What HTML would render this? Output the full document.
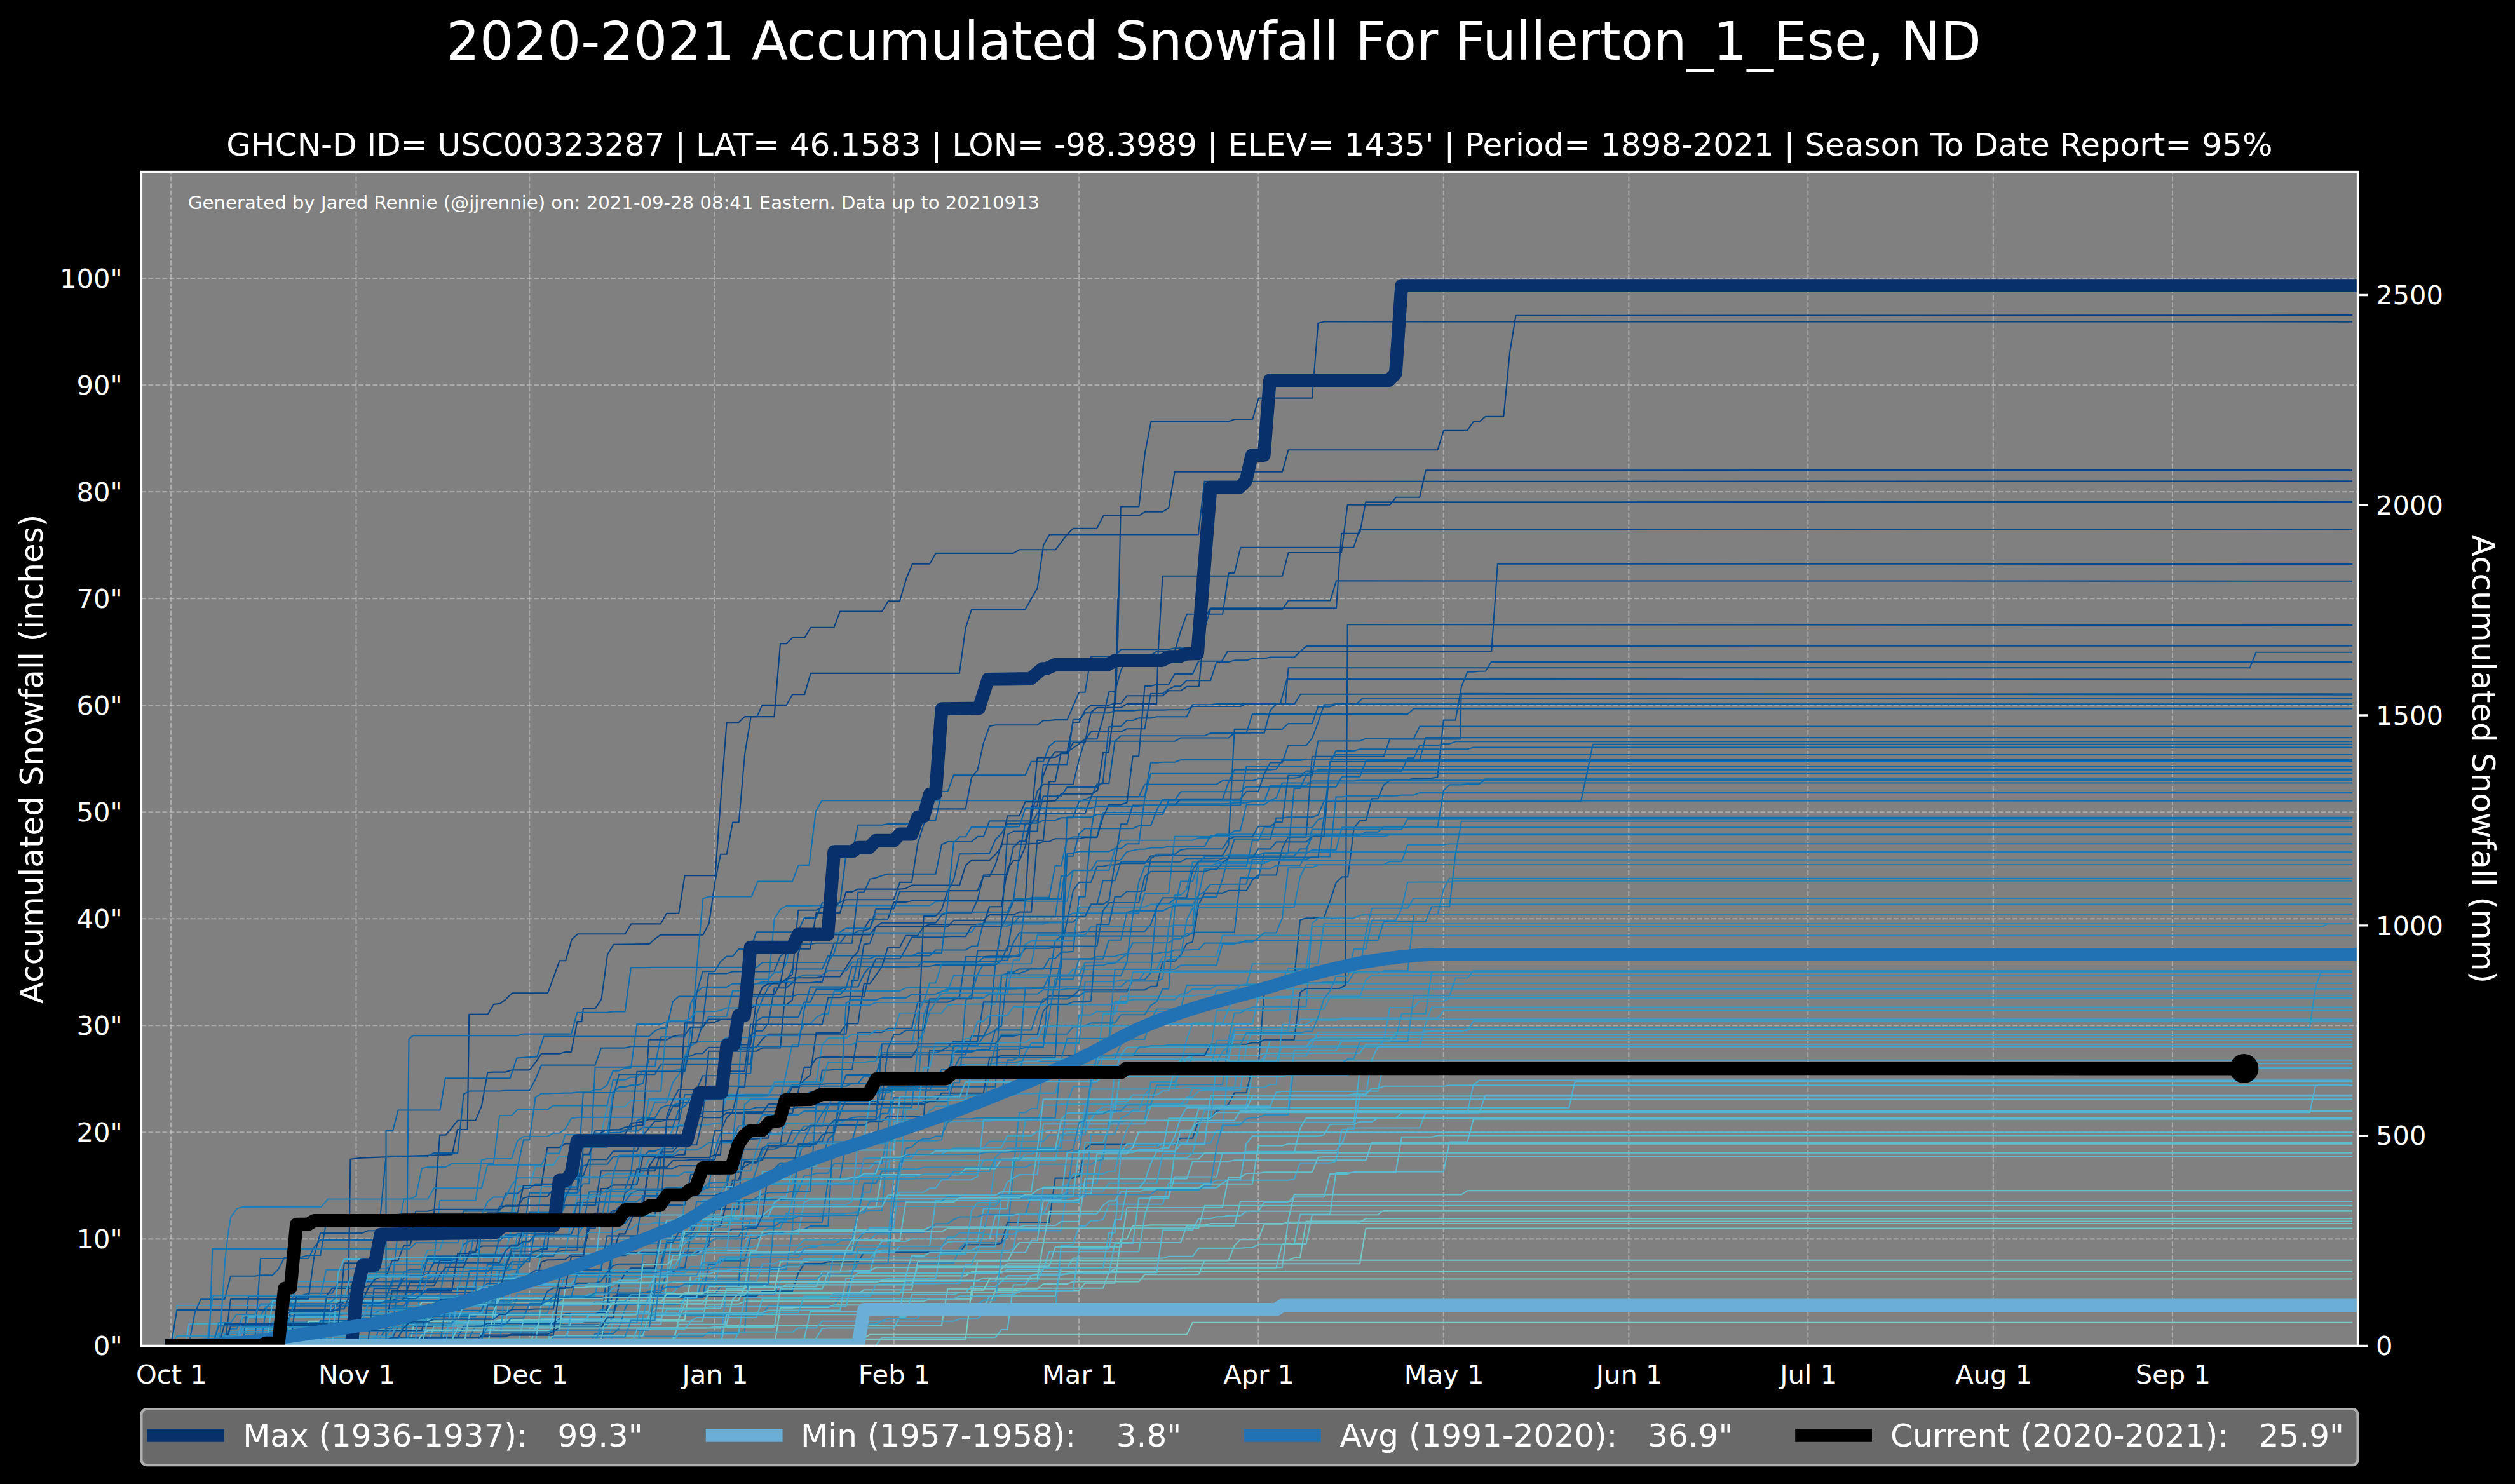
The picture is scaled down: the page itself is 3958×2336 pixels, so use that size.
<!DOCTYPE html><html><head><meta charset="utf-8"><title>2020-2021 Accumulated Snowfall For Fullerton_1_Ese, ND</title>
<style>html,body{margin:0;padding:0;background:#000;overflow:hidden}svg{display:block}text{font-family:"DejaVu Sans","Liberation Sans",sans-serif;fill:#fff;white-space:pre}</style></head><body>
<svg width="3958" height="2336" viewBox="0 0 3958 2336">
<rect x="0" y="0" width="3958" height="2336" fill="#000"/>
<rect x="222.4" y="270.5" width="3488.1" height="1847.9" fill="#808080"/>
<clipPath id="c"><rect x="222.4" y="270.5" width="3488.1" height="1847.9"/></clipPath>
<g fill="none" stroke="#d3d3d3" stroke-opacity="0.5" stroke-width="2.08" stroke-dasharray="7.7 3.33" clip-path="url(#c)"><path d="M269.0 2118.4V270.5M560.5 2118.4V270.5M833.2 2118.4V270.5M1124.6 2118.4V270.5M1406.7 2118.4V270.5M1698.2 2118.4V270.5M1980.3 2118.4V270.5M2271.8 2118.4V270.5M2563.3 2118.4V270.5M2845.3 2118.4V270.5M3136.8 2118.4V270.5M3418.9 2118.4V270.5" stroke-dashoffset="8.9"/><path d="M222.4 2118.4H3710.5M222.4 1950.4H3710.5M222.4 1782.3H3710.5M222.4 1614.3H3710.5M222.4 1446.2H3710.5M222.4 1278.2H3710.5M222.4 1110.2H3710.5M222.4 942.1H3710.5M222.4 774.1H3710.5M222.4 606.0H3710.5M222.4 438.0H3710.5"/></g>
<g clip-path="url(#c)" fill="none" stroke-linejoin="round" stroke-linecap="butt">
<g stroke-width="2.08" stroke-linecap="square">
<path d="M259.6 2118.4L438.2 2118.4L447.7 2107.7L616.9 2107.7L626.3 2088.0L842.6 2088.0L852.0 2083.5L880.2 2083.5L889.6 2080.5L946.0 2080.5L955.4 2005.1L964.8 1976.3L983.6 1976.3L993.0 1971.8L1096.4 1971.8L1105.8 1968.6L1115.2 1960.8L1124.6 1902.9L1162.3 1902.9L1171.7 1750.1L1228.1 1750.1L1237.5 1745.3L1246.9 1745.3L1256.3 1743.1L1284.5 1743.1L1293.9 1684.6L1303.3 1684.6L1312.7 1683.9L1340.9 1683.9L1350.3 1625.2L1387.9 1625.2L1397.3 1618.8L1434.9 1618.8L1444.3 1577.6L1491.4 1577.6L1500.8 1573.9L1510.2 1568.4L1519.6 1506.0L1547.8 1506.0L1557.2 1505.2L1604.2 1505.2L1613.6 1492.8L1651.2 1492.8L1660.6 1491.2L1670.0 1491.2L1679.4 1450.5L1688.8 1402.2L1698.2 1388.9L1717.0 1388.9L1726.4 1363.8L1735.8 1363.8L1745.2 1361.5L1754.6 1361.5L1764.0 1359.3L1801.6 1359.3L1811.0 1347.4L1820.4 1347.4L1829.8 1346.9L1923.9 1346.9L1933.3 1330.5L1942.7 1147.9L2017.9 1147.9L2027.3 1139.1L2064.9 1139.1L2074.3 1112.6L2093.1 1112.6L2102.5 1108.8L2121.3 1108.8L2130.7 1108.3L3701.0 1108.3" stroke="#08599c"/>
<path d="M259.6 2118.4L814.4 2118.4L823.8 2117.6L955.4 2117.6L964.8 2111.3L1002.4 2111.3L1011.8 2097.8L1021.2 2070.5L1077.6 2070.5L1087.0 2070.3L1124.6 2070.3L1134.0 2069.9L1199.9 2069.9L1209.3 2055.6L1312.7 2055.6L1322.1 2040.4L1331.5 2040.4L1340.9 2004.6L1350.3 1988.8L1472.5 1988.8L1481.9 1988.3L1500.8 1988.3L1510.2 1965.1L1519.6 1956.3L1576.0 1956.3L1585.4 1947.4L1594.8 1841.8L1604.2 1751.5L1613.6 1751.5L1623.0 1745.0L1632.4 1745.0L1641.8 1683.1L1651.2 1683.1L1660.6 1682.5L1670.0 1682.5L1679.4 1676.2L1726.4 1676.2L1735.8 1657.4L1745.2 1645.3L1754.6 1576.1L1773.4 1576.1L1782.8 1573.4L1848.7 1573.4L1858.1 1564.8L1867.5 1563.7L1876.9 1556.9L1905.1 1556.9L1914.5 1550.9L1961.5 1550.9L1970.9 1517.3L2074.3 1517.3L2083.7 1454.0L3701.0 1454.0" stroke="#2687bb"/>
<path d="M259.6 2118.4L852.0 2118.4L861.4 2110.8L955.4 2110.8L964.8 2081.3L983.6 2081.3L993.0 2080.4L1002.4 2076.1L1011.8 2034.7L1058.8 2034.7L1068.2 2024.5L1087.0 2024.5L1096.4 2012.0L1105.8 2012.0L1115.2 1918.6L1162.3 1918.6L1171.7 1888.2L1181.1 1888.2L1190.5 1886.4L1209.3 1886.3L1218.7 1884.4L1237.5 1884.4L1246.9 1838.7L1369.1 1838.7L1378.5 1828.3L1397.3 1828.3L1406.7 1826.8L1660.6 1826.8L1670.0 1787.3L1679.4 1782.5L1707.6 1782.5L1717.0 1761.6L1726.4 1749.8L1801.6 1749.8L1811.0 1739.8L1961.5 1739.8L1970.9 1689.9L1980.3 1686.1L1989.7 1667.4L1999.1 1637.8L3701.0 1637.8" stroke="#40a4cb"/>
<path d="M259.6 2118.4L1058.8 2118.4L1068.2 2076.0L1077.6 2052.8L1162.3 2052.8L1171.7 2048.4L1453.7 2048.4L1463.1 2044.8L1529.0 2044.8L1538.4 1984.5L1933.3 1984.5L1942.7 1960.9L1952.1 1951.1L1980.3 1951.1L1989.7 1926.7L2017.9 1926.7L2027.3 1923.7L2140.1 1923.7L2149.5 1918.1L3701.0 1918.1" stroke="#6ec5c8"/>
<path d="M259.6 2118.4L880.2 2118.4L889.6 2109.6L917.8 2109.6L927.2 2108.3L936.6 2108.3L946.0 2094.4L955.4 2086.6L964.8 1957.2L1115.2 1957.2L1124.6 1950.4L1171.7 1950.4L1181.1 1920.5L1237.5 1920.5L1246.9 1889.7L1256.3 1873.7L1265.7 1850.0L1275.1 1850.0L1284.5 1846.9L1303.3 1846.9L1312.7 1831.5L1322.1 1831.5L1331.5 1831.0L1387.9 1831.0L1397.3 1780.6L1406.7 1689.7L1416.1 1689.1L1500.8 1689.1L1510.2 1676.1L1557.2 1676.1L1566.6 1672.9L1594.8 1672.9L1604.2 1670.9L1688.8 1670.9L1698.2 1666.6L1754.6 1666.6L1764.0 1644.1L1773.4 1635.9L1801.6 1635.9L1811.0 1606.2L1820.4 1588.5L1858.1 1588.5L1867.5 1550.9L2036.7 1550.9L2046.1 1549.3L2055.5 1547.4L2074.3 1547.4L2083.7 1546.3L2121.3 1546.3L2130.7 1531.3L2168.3 1531.3L2177.7 1528.3L2215.4 1528.3L2224.8 1439.9L2262.4 1439.9L2271.8 1399.7L2281.2 1382.7L3701.0 1382.7" stroke="#1f80b8"/>
<path d="M259.6 2118.4L466.5 2118.4L475.9 2115.6L588.7 2115.6L598.1 2085.3L673.3 2085.3L682.7 2071.0L692.1 2062.7L805.0 2062.7L814.4 2042.7L1105.8 2042.7L1115.2 1990.6L1124.6 1990.6L1134.0 1984.7L1171.7 1984.7L1181.1 1949.3L1190.5 1949.3L1199.9 1942.8L1209.3 1941.3L1228.1 1941.3L1237.5 1938.0L1246.9 1938.0L1256.3 1935.0L1265.7 1935.0L1275.1 1930.1L1303.3 1930.1L1312.7 1762.7L1331.5 1762.7L1340.9 1759.4L1350.3 1758.3L1378.5 1758.3L1387.9 1700.9L1453.7 1700.9L1463.1 1700.5L1491.4 1700.5L1500.8 1645.8L1538.4 1645.8L1547.8 1631.2L1557.2 1626.8L1566.6 1621.4L1623.0 1621.4L1632.4 1591.7L1641.8 1572.4L1679.4 1572.4L1688.8 1567.9L1698.2 1567.9L1707.6 1561.2L1773.4 1561.2L1782.8 1542.2L1801.6 1542.2L1811.0 1531.3L1820.4 1422.6L1839.3 1422.6L1848.7 1414.8L1886.3 1414.8L1895.7 1412.1L1914.5 1412.1L1923.9 1384.0L1933.3 1347.7L1980.3 1347.7L1989.7 1347.5L2036.7 1347.5L2046.1 1336.3L2055.5 1336.3L2064.9 1317.3L2074.3 1314.6L2140.1 1314.6L2149.5 1309.7L2168.3 1309.7L2177.7 1302.3L2262.4 1302.3L2271.8 1244.6L2281.2 1235.4L2300.0 1235.4L2309.4 1234.0L2328.2 1234.0L2337.6 1226.4L3701.0 1226.4" stroke="#0b6cae"/>
<path d="M259.6 2118.4L438.2 2118.4L447.7 2050.1L457.1 2017.3L551.1 2017.3L560.5 2015.4L588.7 2015.4L598.1 1989.5L616.9 1989.5L626.3 1985.4L729.7 1985.4L739.1 1974.4L786.1 1974.4L795.6 1971.2L805.0 1934.5L814.4 1867.6L833.2 1867.6L842.6 1836.3L852.0 1836.3L861.4 1833.7L870.8 1833.7L880.2 1820.3L899.0 1820.3L908.4 1794.6L917.8 1787.0L946.0 1787.0L955.4 1742.4L983.6 1742.4L993.0 1732.1L1030.6 1732.1L1040.0 1731.5L1115.2 1731.5L1124.6 1730.3L1369.1 1730.3L1378.5 1697.6L1500.8 1697.6L1510.2 1692.9L1519.6 1676.0L1726.4 1676.0L1735.8 1596.1L1754.6 1596.1L1764.0 1568.5L1867.5 1568.5L1876.9 1567.5L1886.3 1566.3L1952.1 1566.3L1961.5 1556.5L3701.0 1556.5" stroke="#3294c2"/>
<path d="M259.6 2118.4L344.2 2118.4L353.6 2100.8L363.0 2091.8L372.4 2091.8L381.8 2074.2L400.6 2074.2L410.0 2071.3L419.4 2055.7L428.8 2055.7L438.2 2052.4L457.1 2052.4L466.5 2025.4L616.9 2025.4L626.3 1937.9L635.7 1887.4L645.1 1887.4L654.5 1883.1L663.9 1839.3L673.3 1837.1L701.5 1837.1L710.9 1831.9L776.7 1831.9L786.1 1756.0L805.0 1756.0L814.4 1746.8L861.4 1746.8L870.8 1740.4L955.4 1740.4L964.8 1699.8L983.6 1699.8L993.0 1695.6L1002.4 1695.6L1011.8 1685.7L1058.8 1685.7L1068.2 1683.9L1077.6 1683.9L1087.0 1617.3L1105.8 1617.3L1115.2 1600.3L1143.5 1600.3L1152.9 1559.7L1171.7 1559.7L1181.1 1548.4L1209.3 1548.4L1218.7 1446.3L1228.1 1431.3L1237.5 1425.9L1275.1 1425.9L1284.5 1425.5L1463.1 1425.5L1472.5 1419.3L1481.9 1418.7L1679.4 1418.7L1688.8 1369.9L1745.2 1369.9L1754.6 1337.1L1764.0 1322.7L1876.9 1322.7L1886.3 1318.9L1905.1 1318.9L1914.5 1313.2L3701.0 1313.2" stroke="#1878b4"/>
<path d="M259.6 2118.4L419.4 2118.4L428.8 2081.5L551.1 2081.5L560.5 2081.3L635.7 2081.3L645.1 2070.1L936.6 2070.1L946.0 2061.5L964.8 2061.5L974.2 2053.3L1068.2 2053.3L1077.6 2044.3L1087.0 2044.3L1096.4 2043.6L1105.8 2013.6L1162.3 2013.6L1171.7 1998.3L1237.5 1998.3L1246.9 1935.7L1256.3 1805.7L1265.7 1805.7L1275.1 1797.4L1340.9 1797.4L1350.3 1797.2L1378.5 1797.2L1387.9 1792.2L1406.7 1792.2L1416.1 1787.4L1425.5 1719.6L1434.9 1698.5L1547.8 1698.5L1557.2 1694.9L1566.6 1694.9L1576.0 1684.8L1604.2 1684.8L1613.6 1657.6L1623.0 1642.1L1698.2 1642.1L1707.6 1545.2L1754.6 1545.2L1764.0 1542.8L1792.2 1542.8L1801.6 1530.1L1820.4 1530.1L1829.8 1528.6L2036.7 1528.6L2046.1 1525.6L2140.1 1525.6L2149.5 1468.6L2158.9 1429.8L2206.0 1429.8L2215.4 1388.7L2224.8 1388.7L2234.2 1388.5L2281.2 1388.5L2290.6 1386.6L3701.0 1386.6" stroke="#2182b9"/>
<path d="M259.6 2118.4L1218.7 2118.4L1228.1 2058.7L1246.9 2058.7L1256.3 2058.0L1303.3 2058.0L1312.7 2054.2L1557.2 2054.2L1566.6 2031.4L1698.2 2031.4L1707.6 2019.7L1754.6 2019.7L1764.0 1950.5L1773.4 1950.5L1782.8 1929.1L1801.6 1929.1L1811.0 1928.4L1895.7 1928.4L1905.1 1926.0L3701.0 1926.0" stroke="#70c6c8"/>
<path d="M259.6 2118.4L475.9 2118.4L485.3 2079.9L776.7 2079.9L786.1 2077.9L1077.6 2077.9L1087.0 2008.4L1519.6 2008.4L1529.0 2001.9L3701.0 2001.9" stroke="#76c9c6"/>
<path d="M259.6 2118.4L946.0 2118.4L955.4 2057.1L964.8 2040.2L1190.5 2040.2L1199.9 2032.3L1246.9 2032.3L1256.3 2004.3L1265.7 1989.1L1293.9 1989.1L1303.3 1986.2L1350.3 1986.2L1359.7 1971.4L1510.2 1971.4L1519.6 1959.2L1566.6 1959.2L1576.0 1956.8L1585.4 1924.0L1651.2 1924.0L1660.6 1854.6L1688.8 1854.6L1698.2 1851.5L1707.6 1808.7L1717.0 1801.6L1848.7 1801.6L1858.1 1791.7L1876.9 1791.7L1886.3 1763.6L1895.7 1763.6L1905.1 1761.5L1914.5 1749.0L1923.9 1746.3L1933.3 1738.1L1942.7 1720.2L1961.5 1720.2L1970.9 1679.3L1980.3 1679.3L1989.7 1561.3L1999.1 1544.3L2008.5 1544.3L2017.9 1543.3L2027.3 1539.4L2036.7 1539.4L2046.1 1448.0L2055.5 1445.3L2064.9 1445.3L2074.3 1444.2L2083.7 1444.2L2093.1 1418.6L2102.5 1389.8L2111.9 1380.4L2121.3 1380.4L2130.7 1303.5L2140.1 1291.6L2149.5 1291.6L2158.9 1257.3L2168.3 1257.3L2177.7 1235.7L2187.2 1228.4L2215.4 1228.4L2224.8 1225.1L2253.0 1225.0L2262.4 1223.4L2271.8 1133.6L2290.6 1133.6L2300.0 1080.9L2309.4 1057.7L2318.8 1057.7L2328.2 1056.7L2337.6 1056.7L2347.0 1041.9L3701.0 1041.9" stroke="#085294"/>
<path d="M259.6 2118.4L645.1 2118.4L654.5 2104.7L739.1 2104.7L748.5 2086.9L814.4 2086.9L823.8 2085.4L955.4 2085.4L964.8 2073.1L974.2 2037.3L1002.4 2037.3L1011.8 2034.2L1040.0 2034.2L1049.4 2002.3L1058.8 2002.3L1068.2 1995.8L1077.6 1995.8L1087.0 1944.0L1096.4 1925.0L1105.8 1914.7L1181.1 1914.7L1190.5 1914.4L1199.9 1855.9L1209.3 1855.9L1218.7 1839.7L1228.1 1830.7L1284.5 1830.7L1293.9 1824.1L1303.3 1793.2L1312.7 1785.1L1322.1 1752.5L1331.5 1730.0L1340.9 1730.0L1350.3 1717.9L1359.7 1716.3L1463.1 1716.3L1472.5 1696.6L1491.4 1696.6L1500.8 1655.9L1529.0 1655.9L1538.4 1653.0L1547.8 1653.0L1557.2 1652.8L1566.6 1620.6L1576.0 1614.5L1585.4 1530.3L1594.8 1530.3L1604.2 1525.4L1641.8 1525.4L1651.2 1509.0L1660.6 1509.0L1670.0 1498.6L1679.4 1498.6L1688.8 1497.9L1698.2 1411.7L1707.6 1411.7L1717.0 1308.2L1726.4 1254.1L1801.6 1254.1L1811.0 1200.6L1820.4 1200.6L1829.8 1199.7L1848.7 1199.7L1858.1 1196.1L1980.3 1196.1L1989.7 1195.7L3701.0 1195.7" stroke="#0864a8"/>
<path d="M259.6 2118.4L344.2 2118.4L353.6 2109.9L447.7 2109.9L457.1 2064.7L475.9 2064.7L485.3 2063.6L522.9 2063.6L532.3 2051.4L541.7 2048.0L569.9 2048.0L579.3 2028.2L588.7 2015.0L598.1 2010.2L607.5 2010.2L616.9 1984.3L626.3 1984.3L635.7 1960.4L645.1 1960.4L654.5 1930.9L673.3 1930.9L682.7 1915.3L692.1 1786.6L701.5 1786.6L710.9 1775.4L720.3 1763.7L748.5 1763.7L757.9 1741.2L767.3 1688.3L776.7 1687.6L795.6 1687.6L805.0 1684.4L833.2 1684.4L842.6 1672.6L852.0 1658.7L880.2 1658.7L889.6 1655.9L899.0 1655.9L908.4 1608.1L915.5 1608.1L917.9 1587.1L937.0 1587.1L946.5 1572.8L956.1 1502.2L965.6 1486.9L1021.9 1485.9L1031.5 1477.3L1039.6 1471.6L1106.4 1471.6L1115.9 1453.5L1125.5 1386.7L1134.0 1344.7L1143.6 1344.7L1153.1 1294.6L1162.7 1294.6L1172.2 1186.3L1181.8 1128.1L1191.3 1128.1L1199.4 1109.9L1237.6 1109.9L1247.1 1093.2L1266.2 1093.2L1275.8 1059.8L1509.9 1059.9L1519.5 989.3L1529.0 959.2L1613.5 959.2L1632.6 925.8L1642.1 858.1L1651.7 841.4L1885.9 841.4L1895.5 757.9L3701.0 757.3" stroke="#084586"/>
<path d="M259.6 2118.4L833.2 2118.4L842.6 2090.5L1134.0 2090.5L1143.5 2086.6L1152.9 2086.1L1481.9 2086.1L1491.4 2028.7L1632.4 2028.7L1641.8 2021.0L1679.4 2021.0L1688.8 2017.4L1792.2 2017.4L1801.6 2006.1L1886.3 2006.1L1895.7 1984.0L2027.3 1984.0L2036.7 1980.0L2046.1 1980.0L2055.5 1922.6L3701.0 1922.6" stroke="#6fc5c8"/>
<path d="M259.6 2118.4L391.2 2118.4L400.6 2111.7L447.7 2111.7L457.1 2093.2L842.6 2093.2L852.0 2075.4L1040.0 2075.4L1049.4 2061.3L1105.8 2061.3L1115.2 2056.8L1303.3 2056.8L1312.7 2056.5L1331.5 2056.5L1340.9 2014.5L1387.9 2014.5L1397.3 2013.1L1453.7 2013.1L1463.1 2012.1L1472.5 2012.1L1481.9 1962.8L1491.4 1955.2L1500.8 1954.3L1538.4 1954.3L1547.8 1902.5L1585.4 1902.5L1594.8 1822.7L1867.5 1822.7L1876.9 1815.4L1952.1 1815.4L1961.5 1812.7L2064.9 1812.7L2074.3 1811.2L2102.5 1811.2L2111.9 1800.3L2121.3 1775.5L2234.2 1775.5L2243.6 1751.1L2309.4 1751.1L2318.8 1707.6L2328.2 1700.5L3701.0 1700.5" stroke="#4bb0d1"/>
<path d="M259.6 2118.4L372.4 2118.4L381.8 2092.2L532.3 2092.2L541.7 2087.6L616.9 2087.6L626.3 2075.2L692.1 2075.2L701.5 2058.6L729.7 2058.6L739.1 2057.0L776.7 2057.0L786.1 1963.2L993.0 1963.2L1002.4 1952.6L1021.2 1952.6L1030.6 1946.1L1077.6 1946.1L1087.0 1931.6L1096.4 1923.7L1105.8 1889.6L1265.7 1889.6L1275.1 1855.5L1322.1 1855.5L1331.5 1854.3L1340.9 1854.3L1350.3 1851.9L1397.3 1851.9L1406.7 1765.2L1510.2 1765.2L1519.6 1764.6L1557.2 1764.6L1566.6 1763.7L1717.0 1763.7L1726.4 1749.1L1735.8 1742.7L1792.2 1742.7L1801.6 1738.1L1858.1 1738.1L1867.5 1727.4L1876.9 1727.4L1886.3 1717.3L1895.7 1715.8L1952.1 1715.8L1961.5 1646.1L1970.9 1621.5L2036.7 1621.5L2046.1 1604.5L3701.0 1604.5" stroke="#3a9cc7"/>
<path d="M259.6 2118.4L823.8 2118.4L833.2 2113.6L899.0 2113.6L908.4 2112.8L1134.0 2112.8L1143.5 2024.2L1265.7 2024.2L1275.1 2020.0L1303.3 2020.0L1312.7 1973.2L1378.5 1973.2L1387.9 1969.2L1538.4 1969.2L1547.8 1942.9L1594.8 1942.9L1604.2 1937.1L1670.0 1937.1L1679.4 1865.7L1698.2 1865.7L1707.6 1862.6L1726.4 1862.6L1735.8 1809.3L1773.4 1809.3L1782.8 1805.0L1820.4 1805.0L1829.8 1799.6L1905.1 1799.6L1914.5 1779.4L1923.9 1779.4L1933.3 1671.1L1942.7 1670.8L2008.5 1670.8L2017.9 1646.5L2168.3 1646.5L2177.7 1638.8L2187.2 1586.0L2224.8 1586.0L2234.2 1575.7L2271.8 1575.7L2281.2 1571.6L3701.0 1571.6" stroke="#3699c5"/>
<path d="M259.6 2118.4L381.8 2118.4L391.2 2073.0L551.1 2073.0L560.5 2071.7L654.5 2071.7L663.9 2056.2L710.9 2056.2L720.3 2043.6L739.1 2043.6L748.5 2010.8L842.6 2010.8L852.0 1973.3L1040.0 1973.3L1049.4 1966.2L1068.2 1966.2L1077.6 1957.2L1087.0 1945.0L1199.9 1945.0L1209.3 1941.8L1256.3 1941.8L1265.7 1892.1L1275.1 1888.5L1378.5 1888.5L1387.9 1886.1L1397.3 1886.1L1406.7 1885.8L1416.1 1876.7L1453.7 1876.7L1463.1 1870.4L1472.5 1870.4L1481.9 1857.2L1529.0 1857.2L1538.4 1851.8L1547.8 1762.7L1613.6 1762.7L1623.0 1762.0L1670.0 1762.0L1679.4 1752.0L1735.8 1752.0L1745.2 1751.0L1754.6 1751.0L1764.0 1680.7L1848.7 1680.7L1858.1 1668.7L3701.0 1668.7" stroke="#45a8cd"/>
<path d="M259.6 2118.4L767.3 2118.4L776.7 2118.1L927.2 2118.1L936.6 2099.4L964.8 2099.4L974.2 2090.8L983.6 2060.8L993.0 2041.2L1011.8 2041.2L1021.2 2040.2L1077.6 2040.2L1087.0 2037.6L1124.6 2037.6L1134.0 2025.2L1162.3 2025.2L1171.7 1888.3L1228.1 1888.3L1237.5 1887.5L1246.9 1887.5L1256.3 1825.6L1265.7 1793.6L1275.1 1774.4L1284.5 1768.9L1293.9 1752.4L1303.3 1738.0L1406.7 1738.0L1416.1 1736.6L1444.3 1736.6L1453.7 1734.1L1491.4 1734.1L1500.8 1704.3L1510.2 1704.3L1519.6 1574.7L1529.0 1565.8L1538.4 1534.2L1547.8 1517.2L1557.2 1517.2L1566.6 1516.5L1576.0 1457.8L1585.4 1457.8L1594.8 1453.9L1604.2 1443.4L1660.6 1443.4L1670.0 1378.9L1679.4 1378.9L1688.8 1370.2L1717.0 1370.2L1726.4 1355.4L1754.6 1355.4L1764.0 1353.2L1773.4 1340.7L1782.8 1338.8L1792.2 1336.7L1801.6 1336.7L1811.0 1334.4L1829.8 1334.4L1839.3 1332.3L1895.7 1332.3L1905.1 1315.5L1933.3 1315.5L1942.7 1307.6L1952.1 1307.6L1961.5 1266.4L1989.7 1266.4L1999.1 1260.1L2008.5 1256.0L2017.9 1232.5L3701.0 1232.5" stroke="#0f6faf"/>
<path d="M259.6 2118.4L776.7 2118.4L786.1 2116.3L861.4 2116.3L870.8 2112.4L880.2 2112.4L889.6 2110.0L899.0 2079.7L1105.8 2079.7L1115.2 2025.3L1284.5 2025.3L1293.9 2000.8L1331.5 2000.8L1340.9 2000.0L1369.1 2000.0L1378.5 1995.2L2017.9 1995.2L2027.3 1921.1L2036.7 1880.5L2300.0 1880.5L2309.4 1874.1L3701.0 1874.1" stroke="#65c0cb"/>
<path d="M259.6 2118.4L381.8 2118.4L391.2 2040.1L466.5 2040.1L475.9 2039.2L485.3 2035.8L522.9 2035.8L532.3 2018.2L569.9 2018.2L579.3 2017.5L663.9 2017.5L673.3 1977.3L870.8 1977.3L880.2 1964.0L917.8 1964.0L927.2 1932.2L936.6 1927.6L946.0 1925.8L983.6 1925.8L993.0 1913.8L1030.6 1913.8L1040.0 1823.5L1049.4 1774.4L1058.8 1774.4L1068.2 1772.2L1087.0 1772.2L1096.4 1760.1L1105.8 1750.0L1134.0 1750.0L1152.9 1746.0L1181.1 1746.0L1190.5 1743.3L1228.1 1743.3L1237.5 1726.5L1265.7 1726.5L1275.1 1718.6L1322.1 1718.5L1331.5 1692.1L1378.5 1692.1L1387.9 1660.2L1519.6 1660.2L1529.0 1630.7L1547.8 1630.7L1557.2 1613.6L1566.6 1517.0L1576.0 1459.7L1585.4 1440.0L1594.8 1419.1L1604.2 1345.1L1613.6 1295.6L1632.4 1295.6L1641.8 1291.3L1660.6 1291.3L1670.0 1287.2L1688.8 1287.2L1698.2 1261.6L1707.6 1258.6L1717.0 1254.1L1792.2 1254.1L1801.6 1234.7L1914.5 1234.7L1923.9 1228.9L1970.9 1228.9L1980.3 1226.3L1989.7 1224.7L2036.7 1224.7L2046.1 1223.4L2055.5 1213.6L2206.0 1213.6L2215.4 1193.4L2224.8 1193.4L2234.2 1173.4L2262.4 1173.4L2271.8 1170.9L2281.2 1170.9L2290.6 1167.3L3701.0 1167.3" stroke="#085fa3"/>
<path d="M259.6 2118.4L645.1 2118.4L654.5 2065.1L663.9 2049.8L946.0 2049.8L955.4 2047.5L1162.3 2047.5L1171.7 2026.2L1199.9 2026.2L1209.3 2018.1L1218.7 2017.0L1566.6 2017.0L1576.0 1997.3L1585.4 1989.2L2140.1 1989.2L2149.5 1933.6L3701.0 1933.6" stroke="#73c8c7"/>
<path d="M259.6 2118.4L551.1 2118.4L560.5 2112.8L673.3 2112.8L682.7 2111.6L720.3 2111.6L729.7 2108.5L1058.8 2108.5L1068.2 2084.7L1143.5 2084.7L1152.9 2046.0L1162.3 2036.3L1350.3 2036.3L1359.7 2030.3L1434.9 2030.3L1444.3 1986.0L1585.4 1986.0L1594.8 1967.7L1604.2 1956.0L1858.1 1956.0L1867.5 1929.7L1942.7 1929.7L1952.1 1891.0L3701.0 1891.0" stroke="#67c1cb"/>
<path d="M259.6 2118.4L270.7 2118.4L278.7 2055.0L927.2 2055.0L936.6 2049.4L955.4 2049.4L964.8 2049.0L983.6 2049.0L993.0 2038.0L1105.8 2038.0L1115.2 2023.9L1124.6 2023.9L1134.0 1982.0L1162.3 1982.0L1171.7 1963.6L1181.1 1963.6L1190.5 1960.8L1246.9 1960.8L1256.3 1960.2L1265.7 1951.5L1369.1 1951.5L1378.5 1942.5L1397.3 1942.5L1406.7 1899.0L1557.2 1899.0L1566.6 1826.6L1604.2 1826.6L1613.6 1764.0L1632.4 1764.0L1641.8 1739.7L1660.6 1739.7L1670.0 1738.3L1858.1 1738.3L1867.5 1736.4L1876.9 1713.1L1942.7 1713.1L1952.1 1648.2L2234.2 1648.2L2243.6 1611.3L2253.0 1585.5L3701.0 1585.5" stroke="#379ac5"/>
<path d="M259.6 2118.4L325.4 2118.4L334.8 2112.3L344.2 2098.7L438.2 2098.7L447.7 2095.1L729.7 2095.1L739.1 2067.2L861.4 2067.2L870.8 2039.7L936.6 2039.7L946.0 1990.4L955.4 1966.6L964.8 1950.8L1087.0 1950.8L1096.4 1938.5L1199.9 1938.5L1209.3 1933.4L1228.1 1933.4L1237.5 1910.0L1340.9 1910.0L1350.3 1907.1L1359.7 1907.1L1369.1 1906.0L1387.9 1906.0L1397.3 1795.8L1472.5 1795.8L1481.9 1794.3L1491.4 1740.7L1500.8 1739.4L1529.0 1739.4L1538.4 1738.9L1547.8 1738.9L1557.2 1689.5L1604.2 1689.5L1613.6 1687.5L1651.2 1687.5L1660.6 1687.3L1688.8 1687.3L1698.2 1597.6L1717.0 1597.6L1726.4 1592.2L1764.0 1592.2L1773.4 1592.0L1867.5 1592.0L1876.9 1588.7L1905.1 1588.7L1914.5 1558.6L1942.7 1558.6L1952.1 1551.1L1961.5 1549.3L1999.1 1549.3L2008.5 1549.2L2017.9 1544.0L2027.3 1524.1L2055.5 1524.1L2064.9 1458.7L3654.0 1458.7L3663.7 1454.1L3701.0 1454.1" stroke="#2889bc"/>
<path d="M259.6 2118.4L400.6 2118.4L410.0 1981.0L485.3 1981.0L494.7 1963.1L504.1 1952.0L588.7 1952.0L598.1 1948.3L645.1 1948.3L654.5 1932.8L720.3 1932.8L729.7 1906.4L786.1 1906.4L795.6 1878.6L814.4 1878.6L823.8 1870.7L833.2 1870.7L842.6 1863.9L880.2 1863.9L889.6 1856.2L908.4 1856.2L917.8 1835.2L927.2 1832.8L955.4 1832.8L964.8 1821.1L1011.8 1821.1L1021.2 1812.1L1030.6 1812.1L1040.0 1808.2L1058.8 1808.2L1068.2 1767.8L1077.6 1723.1L1124.6 1723.1L1134.0 1721.9L1143.5 1690.0L1181.1 1690.0L1190.5 1597.5L1199.9 1572.5L1209.3 1553.9L1218.7 1545.9L1237.5 1545.9L1246.9 1525.5L1293.9 1525.5L1303.3 1504.5L1397.3 1504.5L1463.1 1504.4L1472.5 1495.5L1519.6 1495.5L1529.0 1489.5L1538.4 1489.5L1547.8 1451.6L1688.8 1451.6L1698.2 1442.7L1707.6 1442.7L1717.0 1423.9L1726.4 1423.9L1735.8 1386.1L1754.6 1386.1L1764.0 1356.7L1858.1 1356.7L1867.5 1351.1L1905.1 1351.1L1914.5 1350.8L1933.3 1350.8L1942.7 1320.7L1999.1 1320.7L2008.5 1287.6L2017.9 1287.6L2027.3 1286.3L2064.9 1286.3L2074.3 1282.9L2083.7 1261.4L2488.0 1261.4L2497.4 1217.7L2506.8 1171.7L3701.0 1171.7" stroke="#0861a4"/>
<path d="M259.6 2118.4L673.3 2118.4L682.7 2087.6L936.6 2087.6L946.0 2084.7L1040.0 2084.7L1049.4 2016.9L1058.8 1975.6L1096.4 1975.6L1105.8 1967.9L1190.5 1967.9L1199.9 1937.9L1246.9 1937.9L1256.3 1936.0L1453.7 1936.0L1463.1 1931.4L1604.2 1931.4L1613.6 1929.0L1660.6 1929.0L1670.0 1922.8L1698.2 1922.8L1707.6 1855.5L1867.5 1855.5L1876.9 1828.2L1933.3 1828.2L1942.7 1826.4L2149.5 1826.4L2158.9 1798.6L3701.0 1798.6" stroke="#5ebcce"/>
<path d="M259.6 2118.4L548.0 2118.4L549.3 1966.9L551.4 1824.7L569.3 1822.6L711.5 1817.5L719.9 1778.0L735.7 1778.0L738.2 1596.8L767.6 1596.6L777.1 1580.9L786.7 1579.9L796.2 1572.8L805.8 1563.2L862.1 1563.2L880.7 1512.2L890.2 1512.2L899.8 1478.8L909.3 1470.2L983.7 1470.2L993.3 1454.4L1039.6 1454.4L1049.1 1437.7L1068.2 1437.7L1077.7 1378.1L1125.5 1378.1L1134.0 1262.6L1143.6 1137.1L1162.7 1137.1L1172.2 1128.1L1218.5 1128.1L1228.0 1013.1L1237.6 1013.1L1247.1 1004.0L1266.2 1004.0L1275.8 987.8L1312.5 987.8L1322.0 962.5L1387.9 962.5L1397.8 946.3L1415.9 946.3L1426.4 910.5L1436.0 887.6L1463.2 887.6L1472.7 870.9L1594.9 870.9L1604.4 865.2L1661.2 865.2L1679.3 841.4L1688.9 831.8L1726.1 831.8L1736.6 811.8L1792.4 811.8L1802.0 805.6L1829.6 805.6L1839.2 799.8L1848.7 742.6L2018.1 742.6L2027.6 708.2L2262.4 708.2L2271.9 677.7L2309.2 677.7L2318.7 663.9L2328.2 663.9L2337.8 655.7L2366.4 655.7L2376.0 555.1L2385.5 496.9L3701.0 496.1" stroke="#084182"/>
<path d="M259.6 2118.4L291.6 2118.4L297.5 2083.8L795.6 2083.8L805.0 2021.0L870.8 2021.0L880.2 2020.8L899.0 2020.8L908.4 2010.1L917.8 1999.8L1143.5 1999.8L1152.9 1998.2L1209.3 1998.2L1218.7 1995.9L1228.1 1995.9L1237.5 1994.3L1256.3 1994.3L1265.7 1981.7L1369.1 1981.7L1378.5 1970.0L1387.9 1967.8L1529.0 1967.8L1538.4 1962.5L1566.6 1962.5L1576.0 1882.8L1585.4 1860.4L1604.2 1849.0L1632.4 1849.0L1641.8 1769.3L1801.6 1769.3L1811.0 1741.2L1999.1 1741.2L2008.5 1719.2L2017.9 1718.0L2130.7 1718.0L2140.1 1717.6L2168.3 1717.6L2177.7 1674.1L3701.0 1674.1" stroke="#46aace"/>
<path d="M259.6 2118.4L269.0 2118.4L278.4 2062.1L532.3 2062.1L541.7 2047.2L616.9 2047.2L626.3 2043.8L635.7 2043.8L645.1 2018.4L682.7 2018.4L692.1 1983.9L710.9 1983.9L720.3 1976.3L748.5 1976.3L757.9 1975.5L833.2 1975.5L842.6 1969.7L852.0 1966.0L861.4 1966.0L870.8 1868.0L880.2 1867.7L889.6 1851.7L899.0 1851.1L917.8 1851.1L927.2 1825.1L955.4 1825.1L964.8 1812.3L1002.4 1812.3L1011.8 1787.3L1030.6 1764.9L1040.0 1764.9L1049.4 1762.9L1058.8 1741.1L1068.2 1740.8L1077.6 1663.7L1087.0 1662.2L1096.4 1658.2L1105.8 1658.2L1115.2 1648.8L1181.1 1648.8L1190.5 1648.7L1199.9 1635.6L1209.3 1627.7L1331.5 1627.7L1340.9 1543.1L1350.3 1543.1L1359.7 1486.6L1369.1 1484.9L1378.5 1458.4L1387.9 1452.7L1472.5 1452.7L1481.9 1440.2L1491.4 1436.7L1529.0 1436.7L1538.4 1416.4L1547.8 1377.5L1557.2 1377.0L1585.4 1377.0L1594.8 1333.7L1604.2 1324.3L1613.6 1324.3L1623.0 1286.5L1632.4 1245.3L1641.8 1234.8L1688.8 1234.8L1698.2 1195.4L1707.6 1164.3L1717.0 1152.0L1764.0 1152.0L1773.4 1147.2L1801.6 1147.2L1811.0 1091.7L1829.8 1091.7L1839.3 1084.9L1848.7 1080.2L1858.1 1080.2L1867.5 1071.1L1905.1 1071.1L1914.5 1042.0L1933.3 1042.0L1942.7 1039.4L1961.5 1039.4L1970.9 1036.4L1989.7 1036.4L1999.1 1034.6L2037.2 1034.6L2046.7 1025.1L2056.3 1016.9L3701.0 1016.7" stroke="#084e90"/>
<path d="M259.6 2118.4L729.7 2118.4L739.1 2115.6L955.4 2115.6L964.8 2103.5L1105.8 2103.5L1115.2 2096.9L1171.7 2096.9L1181.1 1974.6L1340.9 1974.6L1350.3 1951.2L1359.7 1940.0L1453.7 1940.0L1463.1 1935.1L1472.5 1926.2L1491.4 1926.2L1500.8 1919.7L1510.2 1915.5L1538.4 1915.5L1547.8 1911.7L1613.6 1911.7L1623.0 1883.8L1641.8 1883.8L1651.2 1881.6L1660.6 1881.6L1670.0 1880.4L1679.4 1880.4L1688.8 1812.4L1698.2 1812.4L1707.6 1754.6L1717.0 1753.6L1726.4 1753.6L1735.8 1753.3L1745.2 1748.6L1764.0 1748.6L1773.4 1739.3L1811.0 1739.3L1820.4 1708.3L1848.7 1708.3L1858.1 1707.3L1923.9 1707.3L1933.3 1638.0L1942.7 1594.5L1952.1 1594.5L1961.5 1588.7L1970.9 1585.2L1980.3 1585.2L1989.7 1584.7L2055.5 1584.7L2064.9 1453.5L2074.3 1445.3L2130.7 1445.3L2140.1 1441.0L2149.5 1439.0L3701.0 1439.0" stroke="#2586bb"/>
<path d="M259.6 2118.4L428.8 2118.4L438.2 2113.5L551.1 2113.5L560.5 2082.2L569.9 2070.7L635.7 2070.7L645.1 2040.1L654.5 2033.9L663.9 2013.3L673.3 2013.3L682.7 2007.4L701.5 2007.4L710.9 1984.3L720.3 1979.5L739.1 1979.5L748.5 1930.9L767.3 1930.9L776.7 1917.0L786.1 1909.1L805.0 1909.1L814.4 1838.7L823.8 1794.4L833.2 1794.4L842.6 1727.6L852.0 1721.4L861.4 1721.4L870.8 1721.0L880.2 1721.0L889.6 1720.6L899.0 1720.6L908.4 1719.4L927.2 1719.4L936.6 1715.1L946.0 1715.1L955.4 1707.8L964.8 1685.6L974.2 1685.6L983.6 1681.1L993.0 1680.6L1002.4 1612.1L1040.0 1612.1L1049.4 1608.1L1089.7 1608.1L1096.8 1520.3L1106.4 1414.4L1115.9 1411.5L1182.7 1411.5L1192.3 1387.6L1247.1 1387.6L1256.7 1361.9L1273.4 1361.9L1283.9 1276.9L1293.4 1260.2L3701.0 1260.7" stroke="#1171b1"/>
<path d="M259.6 2118.4L692.1 2118.4L701.5 2094.8L710.9 2080.9L917.8 2080.9L927.2 2070.2L964.8 2070.2L974.2 2070.1L993.0 2070.1L1002.4 2067.4L1068.2 2067.4L1077.6 2043.1L1096.4 2043.1L1105.8 1972.4L1237.5 1972.4L1246.9 1971.3L1406.7 1971.3L1416.1 1961.9L1463.1 1961.9L1472.5 1889.7L1613.6 1889.7L1623.0 1888.9L1670.0 1888.9L1679.4 1814.3L1782.8 1814.3L1792.2 1809.8L1820.4 1809.8L1829.8 1807.0L1839.3 1807.0L1848.7 1788.9L1858.1 1758.9L1867.5 1743.7L2469.2 1743.7L2478.6 1702.2L3701.0 1702.2" stroke="#4cb1d2"/>
<path d="M259.6 2118.4L438.2 2118.4L447.7 2117.3L457.1 2094.3L663.9 2094.3L673.3 2053.0L682.7 2053.0L692.1 2045.9L710.9 2045.9L720.3 2038.7L739.1 2038.7L748.5 2038.4L757.9 2038.4L767.3 2033.1L795.6 2033.1L805.0 2027.9L814.4 2026.3L823.8 2017.7L842.6 2017.7L852.0 1986.5L861.4 1983.3L870.8 1983.3L880.2 1982.8L889.6 1982.8L899.0 1975.2L917.8 1975.2L927.2 1933.5L936.6 1933.5L946.0 1871.0L955.4 1871.0L964.8 1865.4L993.0 1865.4L1002.4 1864.2L1011.8 1820.2L1058.8 1820.2L1068.2 1817.8L1077.6 1817.8L1087.0 1760.6L1096.4 1757.6L1105.8 1757.6L1115.2 1654.7L1190.5 1654.7L1199.9 1649.5L1228.1 1649.5L1237.5 1541.1L1246.9 1539.2L1284.5 1539.2L1293.9 1537.4L1322.1 1537.4L1331.5 1522.5L1340.9 1507.8L1350.3 1497.9L1359.7 1462.4L1369.1 1446.7L1397.3 1446.7L1406.7 1420.0L1425.5 1420.0L1434.9 1418.0L1613.6 1418.0L1623.0 1268.7L1632.4 1268.7L1641.8 1221.4L1651.2 1195.8L1660.6 1183.4L1679.4 1183.4L1688.8 1137.0L1698.2 1137.0L1707.6 1117.8L1717.0 1110.1L1745.2 1110.1L1754.6 1107.3L1764.0 1107.3L1773.4 1095.3L1829.8 1095.3L1839.3 1087.3L1858.1 1087.3L1867.5 1080.9L1886.9 1080.9L1896.4 972.6L1905.0 957.3L2103.0 957.3L2111.1 839.9L2139.8 839.9L2149.3 790.3L3701.0 789.9" stroke="#084688"/>
<path d="M259.6 2118.4L475.9 2118.4L485.3 2113.3L588.7 2113.3L598.1 2106.4L607.5 2091.2L616.9 2091.2L626.3 2026.9L635.7 2002.5L645.1 1998.4L663.9 1998.4L673.3 1982.1L720.3 1982.1L729.7 1958.7L739.1 1953.4L786.1 1953.4L795.6 1943.9L823.8 1943.9L833.2 1877.6L908.4 1877.6L917.8 1817.7L927.2 1817.7L936.6 1783.8L955.4 1783.8L964.8 1782.8L974.2 1782.8L983.6 1780.5L1002.4 1780.5L1011.8 1774.8L1040.0 1774.8L1049.4 1774.2L1058.8 1774.2L1068.2 1747.1L1077.6 1741.2L1087.0 1728.7L1105.8 1728.7L1115.2 1709.8L1331.5 1709.8L1340.9 1705.0L1350.3 1705.0L1359.7 1693.8L1378.5 1693.8L1387.9 1657.2L1472.5 1657.2L1481.9 1654.2L1491.4 1654.0L1566.6 1654.0L1576.0 1651.7L1604.2 1651.7L1613.6 1648.6L1641.8 1648.6L1651.2 1543.4L1660.6 1481.4L1670.0 1473.6L1867.5 1473.6L1876.9 1467.6L1942.7 1467.6L1952.1 1382.0L1980.3 1382.0L1989.7 1342.9L2027.3 1342.9L2036.7 1241.0L2046.1 1241.0L2055.5 1220.1L2064.9 1215.5L2074.3 1211.8L3701.0 1211.8" stroke="#0969ad"/>
<path d="M259.6 2118.4L767.3 2118.4L776.7 2114.0L795.6 2114.0L805.0 2109.5L861.4 2109.5L870.8 2102.6L1011.8 2102.6L1021.2 2070.2L1030.6 2059.6L1134.0 2059.6L1143.5 2028.7L1171.7 2028.7L1181.1 1970.8L1256.3 1970.8L1265.7 1968.5L1340.9 1968.5L1350.3 1910.5L1359.7 1901.3L1369.1 1901.3L1378.5 1899.7L1387.9 1849.1L1510.2 1849.1L1519.6 1839.5L1566.6 1839.5L1576.0 1824.5L1886.3 1824.5L1895.7 1814.8L3701.0 1814.8" stroke="#62becc"/>
<path d="M259.6 2118.4L438.2 2118.4L447.7 2055.6L635.7 2055.6L645.1 2041.3L720.3 2041.3L729.7 2040.6L757.9 2040.6L767.3 1989.9L823.8 1989.9L833.2 1908.5L880.2 1908.5L889.6 1878.5L908.4 1878.5L917.8 1863.2L927.2 1863.2L936.6 1679.8L983.6 1679.8L993.0 1678.8L1030.6 1678.8L1040.0 1632.2L1077.6 1632.2L1087.0 1579.4L1096.4 1561.7L1105.8 1553.9L1143.5 1553.9L1152.9 1548.6L1190.5 1548.6L1199.9 1545.8L1246.9 1545.8L1256.3 1538.1L1265.7 1534.8L1293.9 1534.8L1303.3 1528.2L1331.5 1528.2L1340.9 1514.6L1538.4 1514.6L1547.8 1507.3L1585.4 1507.3L1594.8 1506.0L1604.2 1502.0L1613.6 1417.6L1623.0 1412.9L1651.2 1412.9L1660.6 1362.6L1670.0 1362.6L1679.4 1321.5L1688.8 1317.4L1726.4 1317.3L1735.8 1278.8L1829.8 1278.8L1839.3 1265.4L1923.9 1265.4L1933.3 1264.7L1942.7 1263.6L1961.5 1263.6L1970.9 1261.7L1989.7 1261.7L1999.1 1236.6L2055.5 1236.6L2064.9 1229.4L2130.7 1229.4L2140.1 1228.3L3701.0 1228.3" stroke="#0e6eaf"/>
<path d="M259.6 2118.4L447.7 2118.4L457.1 2110.0L579.3 2110.0L588.7 2105.6L598.1 2103.3L607.5 2103.3L616.9 2089.0L645.1 2089.0L654.5 2085.6L710.9 2085.6L720.3 2031.8L729.7 1995.9L805.0 1995.9L814.4 1942.8L823.8 1942.8L833.2 1941.7L842.6 1941.7L852.0 1868.0L908.4 1868.0L917.8 1852.4L927.2 1852.4L936.6 1852.3L946.0 1852.3L955.4 1847.6L1011.8 1847.6L1021.2 1824.5L1030.6 1824.5L1040.0 1809.0L1049.4 1799.7L1058.8 1776.2L1068.2 1770.5L1115.2 1770.5L1124.6 1768.3L1134.0 1768.3L1143.5 1722.8L1209.3 1722.8L1218.7 1703.1L1284.5 1703.1L1293.9 1644.7L1303.3 1634.3L1331.5 1634.3L1340.9 1628.0L1369.1 1628.0L1378.5 1622.0L1406.7 1622.0L1416.1 1594.7L1481.9 1594.7L1491.4 1582.4L1500.8 1581.0L1519.6 1581.0L1529.0 1580.6L1566.6 1580.6L1576.0 1538.7L1641.8 1538.7L1651.2 1536.2L1679.4 1536.2L1688.8 1525.8L1820.4 1525.8L1829.8 1506.0L1914.5 1506.0L1923.9 1472.6L3701.0 1472.6" stroke="#298abd"/>
<path d="M259.6 2118.4L1134.0 2118.4L1143.5 2069.2L1416.1 2069.2L1425.5 2065.1L1463.1 2065.1L1472.5 2063.4L1538.4 2063.4L1547.8 2060.4L1557.2 2040.2L1660.6 2040.2L1670.0 1996.3L1679.4 1996.3L1688.8 1980.6L1829.8 1980.6L1839.3 1977.8L1876.9 1977.8L1886.3 1964.9L1952.1 1964.9L1961.5 1964.0L1970.9 1964.0L1980.3 1958.7L2036.7 1958.7L2046.1 1911.5L2093.1 1911.5L2102.5 1846.0L2196.6 1846.0L2206.0 1789.8L2253.0 1789.8L2262.4 1787.4L3701.0 1787.4" stroke="#5dbbce"/>
<path d="M259.6 2118.4L353.6 2118.4L363.0 2096.1L494.7 2096.1L504.1 2080.3L513.5 2080.3L522.9 2079.3L569.9 2079.3L579.3 2053.1L607.5 2053.1L616.9 2043.8L786.1 2043.8L795.6 1972.8L889.6 1972.8L899.0 1919.8L908.4 1884.8L917.8 1884.8L927.2 1884.3L955.4 1884.3L964.8 1881.9L1134.0 1881.9L1143.5 1877.0L1181.1 1877.0L1190.5 1868.7L1199.9 1864.1L1246.9 1864.1L1256.3 1810.6L1265.7 1803.7L1275.1 1803.7L1284.5 1800.2L1397.3 1800.2L1406.7 1728.4L1519.6 1728.4L1529.0 1724.0L1594.8 1724.0L1604.2 1721.4L1623.0 1721.4L1632.4 1720.9L1660.6 1720.9L1670.0 1691.6L1773.4 1691.6L1782.8 1691.0L1867.5 1691.0L1876.9 1660.1L1933.3 1660.1L1942.7 1622.3L2027.3 1622.3L2036.7 1548.5L2300.0 1548.5L2309.4 1547.9L3701.0 1547.9" stroke="#3192c1"/>
<path d="M259.6 2118.4L363.0 2118.4L372.4 2116.0L381.8 2113.3L438.2 2113.3L447.7 2112.9L457.1 2069.1L466.5 2040.8L475.9 2040.3L504.1 2040.3L513.5 1998.6L541.7 1998.6L551.1 1997.3L607.5 1997.3L616.9 1990.2L682.7 1990.2L692.1 1889.8L748.5 1889.8L757.9 1825.7L767.3 1824.0L805.0 1824.0L814.4 1795.6L823.8 1789.0L861.4 1789.0L870.8 1783.8L880.2 1783.8L889.6 1777.1L899.0 1760.4L908.4 1758.9L1021.2 1758.9L1030.6 1734.8L1049.4 1734.8L1058.8 1703.9L1068.2 1691.6L1077.6 1662.4L1087.0 1646.8L1096.4 1639.9L1134.0 1639.9L1143.5 1633.2L1181.1 1633.2L1190.5 1630.1L1256.3 1630.1L1265.7 1612.1L1275.1 1612.1L1284.5 1601.6L1293.9 1596.1L1303.3 1596.1L1312.7 1559.9L1416.1 1559.9L1425.5 1554.9L1585.4 1554.9L1594.8 1554.3L1641.8 1554.3L1651.2 1553.2L1764.0 1553.2L1773.4 1544.4L1820.4 1544.4L1829.8 1541.1L1839.3 1460.3L1848.7 1409.1L1858.1 1409.1L1867.5 1400.2L1876.9 1356.8L1989.7 1356.8L1999.1 1354.9L2017.9 1354.9L2027.3 1341.6L2074.3 1341.6L2083.7 1340.9L3701.0 1340.9" stroke="#1c7cb6"/>
<path d="M259.6 2118.4L316.0 2118.4L325.4 2118.1L334.8 2113.3L353.6 2113.3L363.0 2110.2L494.7 2110.2L504.1 2079.1L560.5 2079.1L569.9 2075.1L626.3 2075.1L635.7 2072.1L748.5 2072.1L757.9 2062.1L767.3 2040.9L776.7 1984.4L786.1 1947.5L805.0 1947.5L814.4 1941.9L870.8 1941.9L880.2 1931.7L917.8 1931.7L927.2 1876.2L955.4 1876.2L964.8 1871.9L983.6 1871.9L993.0 1846.6L1002.4 1764.1L1011.8 1760.1L1030.6 1760.1L1040.0 1744.0L1049.4 1740.1L1058.8 1740.1L1068.2 1737.0L1077.6 1735.5L1105.8 1735.5L1115.2 1726.6L1124.6 1726.6L1134.0 1725.3L1152.9 1725.3L1162.3 1724.6L1171.7 1723.6L1209.3 1723.6L1218.7 1723.5L1237.5 1723.5L1246.9 1707.3L1256.3 1707.3L1265.7 1706.9L1293.9 1706.9L1303.3 1705.8L1406.7 1705.8L1416.1 1705.0L1472.5 1705.0L1481.9 1683.7L1500.8 1683.7L1510.2 1664.7L1660.6 1664.7L1670.0 1500.9L1679.4 1286.3L1717.0 1286.3L1726.4 1282.0L1829.8 1282.0L1839.3 1259.8L1848.7 1259.8L1858.1 1246.3L1952.1 1246.3L1961.5 1238.7L2102.5 1238.7L2111.9 1222.8L2140.1 1222.8L2149.5 1197.9L3701.0 1197.9" stroke="#0867ab"/>
<path d="M259.6 2118.4L833.2 2118.4L842.6 2112.4L955.4 2112.4L964.8 2111.3L1011.8 2111.3L1021.2 2110.4L1058.8 2110.4L1068.2 2099.5L1162.3 2099.5L1171.7 2042.9L1303.3 2042.9L1312.7 2036.6L1416.1 2036.6L1425.5 2016.9L1632.4 2016.9L1641.8 1996.7L1735.8 1996.7L1745.2 1940.5L1754.6 1940.5L1764.0 1813.7L1773.4 1800.7L1848.7 1800.7L1858.1 1799.3L1867.5 1799.3L1876.9 1773.5L1886.3 1766.7L2130.7 1766.7L2140.1 1681.8L3701.0 1681.8" stroke="#48accf"/>
<path d="M259.6 2118.4L899.0 2118.4L908.4 2116.5L1152.9 2116.5L1162.3 2096.8L1246.9 2096.8L1256.3 2090.4L1284.5 2090.4L1293.9 2079.8L1500.8 2079.8L1510.2 2076.1L1529.0 2076.1L1538.4 2075.5L1547.8 2068.4L1660.6 2068.4L1670.0 1960.5L1679.4 1960.5L1688.8 1958.9L1698.2 1930.0L1707.6 1930.0L1717.0 1921.5L1726.4 1921.5L1735.8 1919.8L1745.2 1895.8L1829.8 1895.8L1839.3 1862.6L1905.1 1862.6L1914.5 1857.8L2027.3 1857.8L2036.7 1856.2L2046.1 1830.7L2093.1 1830.7L2102.5 1827.9L2111.9 1777.8L2130.7 1777.8L2140.1 1724.6L2149.5 1724.6L2158.9 1667.9L2168.3 1647.7L3701.0 1647.7" stroke="#43a7cd"/>
<path d="M259.6 2118.4L551.1 2118.4L560.5 2051.9L569.9 2036.2L579.3 2007.1L720.3 2007.1L729.7 1946.1L917.8 1946.1L927.2 1940.0L964.8 1940.0L974.2 1935.2L983.6 1935.2L993.0 1934.7L1002.4 1926.8L1021.2 1926.8L1030.6 1924.7L1134.0 1924.7L1143.5 1921.9L1237.5 1921.9L1246.9 1890.8L1256.3 1864.6L1350.3 1864.6L1359.7 1823.7L1369.1 1822.9L1434.9 1822.9L1444.3 1810.1L1491.4 1810.1L1500.8 1807.4L1547.8 1807.4L1557.2 1796.8L1641.8 1796.8L1651.2 1786.5L1707.6 1786.5L1717.0 1703.4L1726.4 1703.1L1735.8 1662.7L1745.2 1662.7L1754.6 1658.8L1905.1 1658.8L1914.5 1590.6L2008.5 1590.6L2017.9 1589.0L2083.7 1589.0L2093.1 1569.0L2140.1 1569.0L2149.5 1542.9L2158.9 1535.3L3701.0 1535.3" stroke="#3091c1"/>
<path d="M259.6 2118.4L344.2 2118.4L353.6 2116.5L428.8 2116.5L438.2 2115.3L457.1 2115.3L466.5 2114.5L513.5 2114.5L522.9 2112.1L654.5 2112.1L663.9 2106.0L701.5 2106.0L710.9 2105.4L720.3 2105.4L729.7 2087.7L757.9 2087.7L767.3 2083.1L870.8 2083.1L880.2 2076.6L889.6 2068.0L936.6 2068.0L946.0 2065.9L955.4 2065.9L964.8 1920.9L974.2 1920.1L983.6 1898.6L1040.0 1898.6L1049.4 1896.9L1077.6 1896.9L1087.0 1848.7L1134.0 1848.7L1143.5 1845.2L1162.3 1845.2L1171.7 1836.3L1181.1 1830.8L1190.5 1830.8L1199.9 1806.6L1209.3 1803.1L1228.1 1803.1L1237.5 1801.7L1246.9 1779.5L1265.7 1779.5L1275.1 1771.7L1312.7 1771.7L1322.1 1771.0L1359.7 1771.0L1369.1 1765.2L1387.9 1765.2L1397.3 1757.0L1453.7 1757.0L1463.1 1654.1L1481.9 1654.1L1491.4 1647.9L1500.8 1639.0L1538.4 1639.0L1547.8 1577.4L1641.8 1577.4L1651.2 1567.6L1688.8 1567.6L1698.2 1558.4L1801.6 1558.4L1811.0 1552.8L1820.4 1552.8L1829.8 1513.3L1848.7 1513.3L1858.1 1503.6L1867.5 1485.6L1876.9 1482.7L1886.3 1424.5L1895.7 1405.8L1923.9 1405.8L1933.3 1401.9L1961.5 1401.9L1970.9 1385.4L1980.3 1377.5L2008.5 1377.5L2017.9 1335.5L2027.3 1317.6L2055.5 1317.6L2064.9 1190.9L2177.7 1190.9L2187.2 1163.4L2298.2 1163.4L2299.6 1091.9L3701.0 1093.7" stroke="#085598"/>
<path d="M259.6 2118.4L795.6 2118.4L805.0 2117.2L814.4 2117.2L823.8 2078.7L917.8 2078.7L927.2 2078.2L993.0 2078.2L1002.4 2077.1L1021.2 2077.1L1030.6 2070.3L1068.2 2070.3L1077.6 2066.0L1199.9 2066.0L1209.3 2062.6L1322.1 2062.6L1331.5 2012.3L1340.9 2012.3L1350.3 2003.9L1576.0 2003.9L1585.4 1998.5L1641.8 1998.5L1651.2 1970.3L1792.2 1970.3L1801.6 1913.7L1811.0 1883.6L1839.3 1883.6L1848.7 1852.5L1914.5 1852.5L1923.9 1814.9L2036.7 1814.9L2046.1 1776.3L2055.5 1760.1L2224.8 1760.1L2234.2 1760.0L3701.0 1760.0" stroke="#57b8d0"/>
<path d="M259.6 2118.4L1275.1 2118.4L1284.5 2106.3L1293.9 2091.1L1303.3 2090.5L1406.7 2090.5L1416.1 2073.1L1425.5 2073.1L1434.9 2037.8L1500.8 2037.8L1510.2 2034.2L1519.6 2034.2L1529.0 2025.0L1566.6 2025.0L1576.0 2017.5L1585.4 2008.1L1623.0 2008.1L1632.4 2007.3L1670.0 2007.3L1679.4 2004.4L1745.2 2004.4L1754.6 1957.0L1782.8 1957.0L1792.2 1886.2L1839.3 1886.2L1848.7 1815.3L1858.1 1778.8L1876.9 1778.8L1886.3 1745.5L1961.5 1745.5L1970.9 1725.4L3701.0 1725.4" stroke="#53b6d1"/>
<path d="M259.6 2118.4L692.1 2118.4L701.5 2054.6L720.3 2054.6L729.7 2049.2L748.5 2049.2L757.9 2029.3L767.3 2020.1L805.0 2020.1L814.4 1999.3L823.8 1989.4L833.2 1978.7L852.0 1978.7L861.4 1930.0L899.0 1930.0L908.4 1892.9L936.6 1892.9L946.0 1891.9L983.6 1891.9L993.0 1878.5L1002.4 1873.9L1040.0 1873.9L1049.4 1869.0L1143.5 1869.0L1152.9 1826.8L1162.3 1825.8L1171.7 1825.8L1181.1 1824.8L1190.5 1824.8L1199.9 1822.7L1312.7 1822.7L1322.1 1799.5L1359.7 1799.5L1369.1 1798.2L1378.5 1798.2L1387.9 1738.0L1397.3 1710.6L1566.6 1710.6L1576.0 1535.1L1585.4 1532.2L1604.2 1532.2L1613.6 1529.0L1623.0 1524.6L1632.4 1524.6L1641.8 1524.0L1670.0 1524.0L1679.4 1347.8L1688.8 1347.8L1698.2 1312.4L1707.6 1304.2L1782.8 1304.2L1792.2 1300.0L1811.0 1300.0L1820.4 1275.4L1829.8 1258.2L1923.9 1258.2L1933.3 1231.7L1942.7 1211.6L1999.1 1211.6L2008.5 1210.7L2017.9 1197.0L2046.1 1197.0L2055.5 1195.5L2093.1 1195.5L2102.5 1188.0L3701.0 1188.0" stroke="#0863a7"/>
<path d="M259.6 2118.4L861.4 2118.4L870.8 2064.7L1021.2 2064.7L1030.6 2005.4L1115.2 2005.4L1124.6 2002.0L1369.1 2002.0L1378.5 1967.9L1387.9 1954.0L1425.5 1954.0L1434.9 1950.3L1557.2 1950.3L1566.6 1913.1L1594.8 1913.1L1604.2 1910.7L1726.4 1910.7L1735.8 1897.7L1745.2 1890.4L1754.6 1890.4L1764.0 1876.0L1792.2 1876.0L1801.6 1872.8L1876.9 1872.8L1886.3 1869.8L1914.5 1869.8L1923.9 1862.1L1933.3 1857.0L1952.1 1857.0L1961.5 1800.2L1970.9 1788.3L2074.3 1788.3L2083.7 1786.3L2093.1 1769.7L2130.7 1769.7L2140.1 1765.8L2158.9 1765.8L2168.3 1760.0L2196.6 1760.0L2206.0 1751.7L2328.2 1751.7L2337.6 1723.7L3701.0 1723.7" stroke="#51b5d2"/>
<path d="M259.6 2118.4L639.3 2118.4L641.4 1839.6L643.5 1635.8L649.9 1630.3L814.4 1630.3L823.8 1627.6L899.0 1627.6L908.4 1593.8L955.4 1593.8L964.8 1592.4L983.6 1592.4L993.0 1523.1L1011.8 1523.1L1021.2 1522.9L1190.5 1522.9L1199.9 1515.0L1303.3 1515.0L1312.7 1500.1L1322.1 1467.0L1331.5 1461.3L1369.1 1461.3L1378.5 1438.5L1481.9 1438.5L1491.4 1435.7L1585.4 1435.7L1594.8 1414.9L1670.0 1414.9L1679.4 1343.9L1688.8 1342.8L1698.2 1340.4L1745.2 1340.4L1754.6 1335.9L1764.0 1335.9L1773.4 1328.2L1792.2 1328.2L1801.6 1256.1L1811.0 1217.7L3701.0 1217.7" stroke="#0a6aad"/>
<path d="M259.6 2118.4L344.2 2118.4L353.6 2116.2L410.0 2116.2L419.4 2058.3L428.8 2048.5L457.1 2048.5L466.5 2042.8L607.5 2042.8L616.9 2041.1L692.1 2041.1L701.5 1988.0L710.9 1988.0L720.3 1984.1L729.7 1984.1L739.1 1933.8L786.1 1933.8L795.6 1924.3L805.0 1924.3L814.4 1916.2L880.2 1916.2L889.6 1897.5L936.6 1897.5L946.0 1892.6L964.8 1892.6L974.2 1891.5L1002.4 1891.5L1011.8 1884.3L1021.2 1883.1L1058.8 1883.1L1068.2 1881.1L1096.4 1881.1L1105.8 1872.7L1115.2 1869.6L1124.6 1811.5L1134.0 1783.9L1181.1 1783.9L1190.5 1783.8L1228.1 1783.8L1237.5 1783.5L1312.7 1783.5L1322.1 1719.6L1397.3 1719.6L1406.7 1716.4L1491.4 1716.4L1500.8 1690.4L1519.6 1690.4L1529.0 1684.0L1547.8 1684.0L1557.2 1682.2L1566.6 1646.3L1576.0 1627.7L1679.4 1627.7L1688.8 1616.2L1698.2 1616.2L1707.6 1614.5L1717.0 1610.4L1754.6 1610.4L1764.0 1597.3L1801.6 1597.3L1811.0 1582.6L1820.4 1576.8L1829.8 1556.6L1839.3 1556.6L1848.7 1431.0L1858.1 1387.5L1876.9 1387.5L1886.3 1358.0L1895.7 1348.3L1923.9 1348.3L1933.3 1346.3L1980.3 1346.3L1989.7 1342.4L2055.5 1342.4L2064.9 1305.6L2206.0 1305.6L2215.4 1288.8L3701.0 1288.8" stroke="#1475b2"/>
<path d="M259.6 2118.4L786.1 2118.4L795.6 2013.9L889.6 2013.9L899.0 2009.6L1030.6 2009.6L1040.0 2008.1L1096.4 2008.1L1105.8 1987.7L1134.0 1987.7L1143.5 1979.8L1162.3 1979.8L1171.7 1979.5L1256.3 1979.5L1265.7 1965.5L1275.1 1963.4L1284.5 1962.9L1293.9 1958.8L1312.7 1958.8L1322.1 1953.2L1331.5 1951.5L1340.9 1951.5L1350.3 1907.4L1359.7 1876.8L1369.1 1876.8L1378.5 1840.3L1444.3 1840.3L1453.7 1837.5L1613.6 1837.5L1623.0 1832.7L1717.0 1832.7L1726.4 1827.4L1735.8 1825.0L1745.2 1765.5L1764.0 1765.5L1773.4 1764.3L1801.6 1764.3L1811.0 1702.9L1848.7 1702.9L1858.1 1687.0L1905.1 1687.0L1914.5 1637.9L2055.5 1637.9L2064.9 1635.4L2130.7 1635.4L2140.1 1635.0L2196.6 1635.0L2206.0 1595.6L2243.6 1595.6L2253.0 1530.3L3701.0 1530.3" stroke="#2c8ebf"/>
<path d="M259.6 2118.4L1002.4 2118.4L1011.8 2073.6L1021.2 2037.9L1218.7 2037.9L1228.1 2014.0L1284.5 2014.0L1293.9 2005.7L1340.9 2005.7L1350.3 1965.7L1378.5 1965.7L1387.9 1962.2L1481.9 1962.2L1491.4 1947.5L1500.8 1947.5L1510.2 1940.6L1547.8 1940.6L1557.2 1898.7L1566.6 1898.7L1576.0 1885.8L1679.4 1885.8L1688.8 1884.0L1707.6 1884.0L1717.0 1785.8L1745.2 1785.8L1754.6 1785.2L1764.0 1759.8L1773.4 1755.6L1782.8 1747.6L1792.2 1747.6L1801.6 1723.2L1811.0 1712.8L1848.7 1712.8L1858.1 1676.9L1867.5 1636.2L1876.9 1610.6L1923.9 1610.6L1933.3 1588.4L1942.7 1571.4L1970.9 1571.4L1980.3 1571.1L1999.1 1571.1L2008.5 1568.7L2027.3 1568.7L2036.7 1566.7L3701.0 1566.7" stroke="#3395c3"/>
<path d="M259.6 2118.4L598.1 2118.4L607.5 2109.1L710.9 2109.1L720.3 2108.6L946.0 2108.6L955.4 2063.8L964.8 2050.4L1040.0 2050.4L1049.4 2036.7L1105.8 2036.7L1115.2 2031.0L1218.7 2031.0L1228.1 1986.2L1265.7 1986.2L1275.1 1983.8L3701.0 1983.8" stroke="#75c8c6"/>
<path d="M259.6 2118.4L287.8 2118.4L297.2 2116.4L306.6 2066.7L316.0 2045.2L353.6 2045.2L363.0 2008.7L400.6 2008.7L410.0 2007.2L428.8 2007.2L438.2 1997.7L447.7 1979.4L466.5 1979.4L475.9 1978.5L485.3 1976.0L504.1 1976.0L513.5 1923.8L532.3 1923.8L541.7 1922.7L551.1 1922.6L560.5 1922.6L569.9 1918.5L598.1 1918.5L607.5 1819.8L673.3 1819.8L682.7 1814.9L720.3 1814.9L729.7 1722.2L739.1 1717.5L786.1 1717.5L795.6 1716.8L833.2 1716.8L842.6 1699.0L852.0 1676.6L936.6 1676.6L946.0 1649.8L955.4 1649.6L983.6 1649.6L993.0 1647.2L1087.0 1647.2L1096.4 1563.4L1105.8 1529.2L1124.6 1529.2L1134.0 1513.7L1143.5 1505.5L1152.9 1505.5L1162.3 1494.1L1181.1 1494.1L1190.5 1467.2L1246.9 1467.2L1256.3 1465.5L1265.7 1445.0L1284.5 1445.0L1293.9 1421.3L1322.1 1421.3L1331.5 1345.1L1340.9 1345.1L1350.3 1298.7L1387.9 1298.7L1397.3 1296.9L1434.9 1296.9L1444.3 1294.6L1453.7 1291.4L1472.5 1291.4L1481.9 1246.0L1491.4 1246.0L1500.8 1220.3L1613.6 1220.3L1623.0 1198.8L1641.8 1198.8L1651.2 1174.8L1660.6 1166.7L1754.6 1166.7L1764.0 1158.3L1895.7 1158.3L1905.1 1154.0L1961.5 1154.0L1970.9 1124.1L2215.4 1124.1L2224.8 1115.4L3701.0 1115.4" stroke="#085a9d"/>
<path d="M259.6 2118.4L767.3 2118.4L776.7 2112.8L889.6 2112.8L899.0 2068.3L1040.0 2068.3L1049.4 2068.1L1162.3 2068.1L1209.3 2068.0L1218.7 2065.9L1256.3 2065.9L1265.7 2040.5L1369.1 2040.5L1378.5 2022.1L1387.9 2020.8L1472.5 2020.8L1481.9 2020.1L1510.2 2020.1L1519.6 1990.1L1529.0 1990.1L1538.4 1968.9L1585.4 1968.9L1594.8 1966.1L1604.2 1911.1L1641.8 1911.1L1651.2 1892.4L1698.2 1892.4L1707.6 1798.6L1735.8 1798.6L1745.2 1775.7L1754.6 1734.1L1773.4 1734.1L1782.8 1723.6L1820.4 1723.6L1829.8 1717.3L1839.3 1717.3L1848.7 1683.6L1858.1 1683.6L1867.5 1665.7L1876.9 1661.8L1980.3 1661.8L1989.7 1657.9L2140.1 1657.9L2149.5 1643.9L3701.0 1643.9" stroke="#41a5cb"/>
<path d="M259.6 2118.4L710.9 2118.4L720.3 2116.0L1124.6 2116.0L1134.0 2112.1L1228.1 2112.1L1237.5 2108.0L1256.3 2108.0L1265.7 2107.4L1275.1 2064.9L1416.1 2064.9L1425.5 2007.7L1434.9 1977.0L1453.7 1977.0L1463.1 1971.8L1613.6 1971.8L1623.0 1953.2L1632.4 1953.2L1641.8 1890.1L1688.8 1890.1L1698.2 1888.3L1707.6 1879.3L1717.0 1879.3L1726.4 1816.2L1773.4 1816.2L1782.8 1805.9L1792.2 1782.2L3701.0 1782.2" stroke="#5bbacf"/>
<path d="M259.6 2118.4L353.6 2118.4L363.0 2044.8L485.3 2044.8L494.7 1975.4L504.1 1941.0L569.9 1941.0L579.3 1937.2L645.1 1937.2L654.5 1906.7L673.3 1906.7L682.7 1903.8L786.1 1903.8L795.6 1897.6L823.8 1897.6L842.6 1897.6L852.0 1897.3L936.6 1897.3L946.0 1843.3L1030.6 1843.3L1040.0 1813.4L1058.8 1813.4L1068.2 1802.2L1096.4 1802.2L1105.8 1759.3L1134.0 1759.3L1143.5 1751.9L1199.9 1751.9L1209.3 1737.9L1453.7 1737.9L1463.1 1733.6L1472.5 1733.6L1481.9 1720.8L1547.8 1720.8L1557.2 1664.8L1566.6 1664.8L1576.0 1661.8L1895.7 1661.8L1905.1 1643.8L1961.5 1643.8L1970.9 1641.5L1980.3 1641.5L1989.7 1636.6L2036.7 1636.6L2046.1 1562.2L2055.5 1556.0L2108.0 1556.0L2117.0 1551.0L2120.7 983.1L3701.0 984.1" stroke="#084d8e"/>
<path d="M259.6 2118.4L551.1 2118.4L560.5 2118.0L569.9 2117.7L588.7 2117.7L598.1 2115.2L607.5 2110.6L616.9 2105.5L748.5 2105.5L757.9 2104.1L795.6 2104.1L805.0 2100.2L861.4 2100.2L870.8 2096.0L880.2 2089.6L946.0 2089.6L955.4 2074.2L964.8 2074.2L974.2 2021.5L983.6 2004.0L993.0 1996.4L1030.6 1996.4L1040.0 1930.0L1087.0 1930.0L1096.4 1929.5L1134.0 1929.5L1143.5 1893.3L1152.9 1857.7L1162.3 1857.7L1171.7 1828.9L1190.5 1828.9L1199.9 1825.8L1209.3 1805.3L1228.1 1805.3L1237.5 1731.0L1246.9 1711.1L1256.3 1711.1L1265.7 1700.0L1275.1 1692.2L1284.5 1626.0L1322.1 1626.0L1331.5 1611.3L1350.3 1611.3L1359.7 1548.4L1369.1 1548.4L1387.9 1521.8L1397.3 1491.1L1416.1 1491.1L1425.5 1472.8L1444.3 1472.8L1453.7 1458.6L1491.4 1458.6L1500.8 1448.9L1547.8 1448.9L1557.2 1440.1L1594.8 1440.1L1604.2 1435.6L1623.0 1435.6L1632.4 1322.9L1641.8 1322.9L1651.2 1230.2L1660.6 1230.2L1670.0 1184.0L1679.4 1184.0L1698.2 1171.0L1707.6 1163.2L1726.4 1163.2L1735.8 1130.7L1745.2 1089.0L1754.6 1089.0L1764.0 1055.4L1773.4 1035.1L1801.6 1035.1L1811.0 1031.8L1820.4 1025.1L1848.7 1025.1L1858.3 993.1L1867.8 966.8L1924.1 966.8L1933.6 902.0L1942.7 902.0L1952.3 861.9L2130.2 861.9L2139.8 833.2L3701.0 833.7" stroke="#08498a"/>
<path d="M259.6 2118.4L701.5 2118.4L710.9 2044.6L786.1 2044.6L795.6 2042.7L880.2 2042.7L889.6 2041.5L917.8 2041.5L927.2 2037.5L955.4 2037.5L964.8 2027.5L1021.2 2027.5L1030.6 2005.7L1049.4 2005.7L1058.8 1991.5L1068.2 1991.5L1077.6 1965.1L1115.2 1965.1L1124.6 1964.2L1171.7 1964.2L1181.1 1942.8L1350.3 1942.8L1359.7 1941.1L1369.1 1932.8L1406.7 1932.8L1416.1 1842.5L1425.5 1816.7L1481.9 1816.7L1491.4 1811.0L1500.8 1809.8L1538.4 1809.8L1547.8 1806.4L1576.0 1806.4L1585.4 1787.7L1623.0 1787.7L1632.4 1781.2L1641.8 1781.2L1651.2 1779.7L1660.6 1779.7L1670.0 1777.2L1745.2 1777.2L1754.6 1686.7L1764.0 1661.4L1773.4 1648.5L2055.5 1648.5L2064.9 1635.8L2074.3 1632.9L3701.0 1632.9" stroke="#3fa2ca"/>
<path d="M259.6 2118.4L522.9 2118.4L532.3 2117.6L936.6 2117.6L946.0 2082.0L1002.4 2082.0L1011.8 1974.9L1105.8 1974.9L1115.2 1944.6L1124.6 1931.8L1143.5 1931.8L1152.9 1913.9L1256.3 1913.9L1265.7 1912.4L1322.1 1912.4L1331.5 1910.0L1340.9 1909.5L1359.7 1909.5L1369.1 1890.9L1481.9 1890.9L1491.4 1883.1L1510.2 1883.1L1519.6 1880.3L1773.4 1880.3L1782.8 1880.1L1811.0 1880.1L1820.4 1873.0L1886.3 1873.0L1895.7 1866.5L1905.1 1866.5L1914.5 1806.1L1923.9 1771.4L1942.7 1771.4L1952.1 1770.3L1961.5 1761.0L1970.9 1759.3L1980.3 1759.3L1989.7 1755.0L2027.3 1755.0L2036.7 1674.6L2064.9 1674.6L2074.3 1673.3L2111.9 1673.3L2121.3 1666.6L2130.7 1666.6L2140.1 1639.5L2215.4 1639.5L2224.8 1567.3L2281.2 1567.3L2290.6 1539.5L2309.4 1539.5L2318.8 1528.2L3701.0 1528.2" stroke="#2a8bbe"/>
<path d="M259.6 2118.4L410.0 2118.4L419.4 2114.7L654.5 2114.7L663.9 2101.1L673.3 2094.2L880.2 2094.2L889.6 2026.9L917.8 2026.9L927.2 2025.4L955.4 2025.4L964.8 2018.5L1378.5 2018.5L1387.9 2015.6L1538.4 2015.6L1547.8 2011.9L1632.4 2011.9L1641.8 1958.0L1651.2 1906.7L3701.0 1906.7" stroke="#6cc4c9"/>
<path d="M259.6 2118.4L635.7 2118.4L645.1 2099.2L757.9 2099.2L767.3 2096.6L861.4 2096.6L870.8 2094.4L880.2 2093.8L1021.2 2093.8L1030.6 2031.0L1040.0 2031.0L1049.4 2025.9L1068.2 2025.9L1077.6 2021.2L1209.3 2021.2L1218.7 1918.8L1246.9 1918.8L1256.3 1914.9L1293.9 1914.9L1303.3 1913.1L1350.3 1913.1L1359.7 1862.6L1378.5 1862.6L1387.9 1843.6L1416.1 1843.6L1425.5 1807.4L1434.9 1805.4L1444.3 1796.8L1453.7 1792.5L1463.1 1792.5L1472.5 1788.6L1481.9 1788.6L1491.4 1766.4L1500.8 1761.2L1529.0 1761.2L1538.4 1759.8L1660.6 1759.8L1670.0 1668.2L1679.4 1634.8L1745.2 1634.8L1754.6 1526.0L1848.7 1526.0L1858.1 1519.4L1914.5 1519.4L1923.9 1485.9L1942.7 1485.9L1952.1 1482.8L1970.9 1482.8L1980.3 1476.3L1989.7 1468.4L2008.5 1468.4L2017.9 1445.1L2027.3 1366.2L2036.7 1366.2L2046.1 1365.7L2064.9 1365.7L2074.3 1361.1L2177.7 1361.1L2187.2 1356.3L2206.0 1356.3L2215.4 1329.7L2271.8 1329.7L2281.2 1328.3L3701.0 1328.3" stroke="#1b7bb6"/>
<path d="M259.6 2118.4L419.4 2118.4L428.8 2103.6L438.2 2097.1L447.7 2090.0L457.1 2071.6L466.5 2070.3L475.9 2070.1L532.3 2070.1L541.7 2068.1L588.7 2068.1L598.1 2062.2L607.5 2062.2L616.9 2059.4L720.3 2059.4L729.7 2047.7L880.2 2047.7L889.6 2041.3L917.8 2041.3L927.2 2040.9L936.6 2035.3L1011.8 2035.3L1021.2 2032.5L1030.6 2032.5L1040.0 1889.9L1049.4 1875.5L1058.8 1875.5L1068.2 1868.9L1181.1 1868.9L1199.9 1812.7L1209.3 1799.6L1246.9 1799.6L1256.3 1783.9L1265.7 1772.7L1293.9 1772.7L1303.3 1741.8L1312.7 1723.1L1378.5 1723.1L1387.9 1713.8L1444.3 1713.8L1453.7 1599.1L1463.1 1574.8L1472.5 1574.8L1481.9 1571.0L1547.8 1571.0L1557.2 1564.8L1632.4 1564.8L1641.8 1558.1L1670.0 1558.1L1679.4 1556.5L1698.2 1556.5L1707.6 1520.2L1717.0 1520.2L1726.4 1519.5L1735.8 1519.5L1745.2 1516.1L1754.6 1516.1L1764.0 1508.6L1773.4 1502.7L1782.8 1484.2L1839.3 1484.2L1848.7 1477.7L1858.1 1477.7L1867.5 1469.8L1876.9 1469.8L1886.3 1408.8L1895.7 1367.8L1905.1 1367.8L1914.5 1367.3L1999.1 1367.3L2008.5 1362.3L2046.1 1362.3L2055.5 1343.5L2064.9 1337.9L2102.5 1337.9L2111.9 1302.4L3701.0 1302.4" stroke="#1677b3"/>
<path d="M259.6 2118.4L353.6 2118.4L363.0 2106.9L513.5 2106.9L654.5 2106.8L663.9 1989.1L673.3 1967.7L692.1 1967.7L701.5 1941.3L729.7 1941.3L739.1 1939.0L786.1 1939.0L795.6 1937.9L823.8 1937.9L833.2 1924.6L908.4 1924.6L917.8 1888.2L927.2 1888.1L936.6 1882.6L983.6 1882.6L993.0 1876.8L1030.6 1876.8L1134.0 1876.7L1143.5 1860.7L1162.3 1860.7L1171.7 1855.7L1434.9 1855.7L1444.3 1855.3L1491.4 1855.3L1500.8 1844.0L1557.2 1844.0L1566.6 1821.3L1576.0 1813.3L1585.4 1807.2L1594.8 1807.2L1604.2 1806.9L1670.0 1806.9L1679.4 1736.4L1688.8 1710.4L1717.0 1710.4L1726.4 1677.8L1839.3 1677.8L1848.7 1673.6L1914.5 1673.6L1923.9 1655.4L1933.3 1647.6L1942.7 1617.1L3635.0 1617.1L3644.0 1555.5L3652.0 1530.9L3701.0 1530.9" stroke="#2d8fbf"/>
<path d="M259.6 2118.4L701.5 2118.4L710.9 2113.6L842.6 2113.6L852.0 2051.7L1105.8 2051.7L1115.2 2038.6L1171.7 2038.6L1181.1 2026.3L1228.1 2026.3L1237.5 2022.4L1434.9 2022.4L1444.3 1993.3L1651.2 1993.3L1660.6 1962.9L1764.0 1962.9L1773.4 1901.0L1886.3 1901.0L1895.7 1900.7L1923.9 1900.7L1933.3 1853.1L1952.1 1853.1L1961.5 1847.0L1980.3 1847.0L1989.7 1845.4L2064.9 1845.4L2074.3 1821.7L2083.7 1821.0L3701.0 1821.0" stroke="#64bfcc"/>
<path d="M259.6 2118.4L551.1 2118.4L560.5 2021.7L569.9 2002.6L663.9 2002.6L673.3 2002.0L767.3 2002.0L776.7 1992.0L795.6 1992.0L805.0 1965.5L814.4 1965.5L823.8 1961.9L852.0 1961.9L861.4 1961.6L983.6 1961.6L993.0 1946.2L1162.3 1946.2L1171.7 1930.5L1218.7 1930.5L1228.1 1923.9L1293.9 1923.9L1303.3 1856.7L1322.1 1856.7L1331.5 1797.0L1340.9 1797.0L1350.3 1761.9L1378.5 1761.9L1387.9 1752.7L1397.3 1752.7L1406.7 1728.1L1463.1 1728.1L1472.5 1725.3L1491.4 1725.3L1500.8 1723.3L1576.0 1723.3L1585.4 1668.6L1594.8 1668.6L1604.2 1663.4L1613.6 1555.2L1660.6 1555.2L1670.0 1509.6L1735.8 1509.6L1745.2 1479.7L1764.0 1479.7L1773.4 1435.9L1782.8 1434.0L1829.8 1434.0L1839.3 1429.0L1848.7 1425.5L1876.9 1425.5L1886.3 1409.1L1895.7 1403.5L1905.1 1392.0L1923.9 1392.0L1933.3 1391.7L1961.5 1391.7L1970.9 1352.7L2055.5 1352.7L2064.9 1348.5L2093.1 1348.5L2102.5 1254.4L2111.9 1254.4L2121.3 1252.7L2196.6 1252.7L2206.0 1251.6L2224.8 1251.6L2234.2 1248.1L3701.0 1248.1" stroke="#1070b0"/>
<path d="M259.6 2118.4L353.6 2118.4L363.0 2087.2L372.4 2087.2L381.8 2086.2L607.5 2086.2L616.9 2031.8L710.9 2031.8L720.3 1973.1L739.1 1973.1L748.5 1971.1L757.9 1918.1L767.3 1909.4L814.4 1909.4L823.8 1866.0L852.0 1866.0L861.4 1806.2L880.2 1806.2L889.6 1800.4L927.2 1800.4L936.6 1785.9L983.6 1785.9L993.0 1768.0L1002.4 1767.1L1011.8 1765.6L1021.2 1762.3L1068.2 1762.3L1077.6 1610.4L1115.2 1610.4L1124.6 1609.0L1134.0 1605.0L1152.9 1605.0L1162.3 1588.0L1181.1 1588.0L1190.5 1581.7L1237.5 1581.7L1246.9 1574.1L1256.3 1500.9L1265.7 1471.4L1369.1 1471.4L1378.5 1458.4L1453.7 1458.4L1463.1 1455.3L1547.8 1455.3L1557.2 1427.2L1576.0 1427.2L1585.4 1367.4L1594.8 1354.9L1604.2 1354.9L1613.6 1332.6L1623.0 1286.6L1632.4 1192.7L1651.2 1192.7L1660.6 1192.0L1670.0 1186.3L1679.4 1186.3L1688.8 1169.0L1707.6 1169.0L1717.0 1120.8L1726.4 1113.8L1764.0 1113.8L1773.4 1108.1L1820.1 1108.1L1822.5 1029.8L1829.6 906.7L2018.1 906.7L2027.6 870.0L2111.1 870.0L2120.7 794.6L2187.5 794.6L2197.0 782.7L2234.2 782.7L2243.8 740.2L3701.0 740.1" stroke="#084485"/>
<path d="M259.6 2118.4L419.4 2118.4L428.8 2047.6L635.7 2047.6L645.1 2041.9L739.1 2041.9L748.5 2031.8L757.9 2027.3L899.0 2027.3L908.4 2022.8L964.8 2022.8L974.2 2015.4L1002.4 2015.4L1011.8 2009.8L1049.4 2009.8L1058.8 1939.0L1068.2 1915.2L1209.3 1915.2L1218.7 1892.9L1228.1 1886.8L1566.6 1886.8L1576.0 1882.4L1688.8 1882.4L1698.2 1811.6L1829.8 1811.6L1839.3 1760.2L1905.1 1760.2L1914.5 1751.3L3635.0 1751.2L3644.0 1708.6L3701.0 1708.6" stroke="#4fb3d3"/>
<path d="M259.6 2118.4L381.8 2118.4L391.2 2118.0L457.1 2118.0L466.5 2039.9L513.5 2039.9L522.9 2027.9L569.9 2027.9L579.3 2024.3L682.7 2024.3L692.1 2007.3L701.5 1994.9L729.7 1994.9L739.1 1969.7L748.5 1969.7L757.9 1961.5L814.4 1961.5L823.8 1933.4L833.2 1933.4L842.6 1927.9L889.6 1927.9L899.0 1925.6L927.2 1925.6L936.6 1909.7L964.8 1909.7L974.2 1899.7L1011.8 1899.7L1021.2 1837.2L1049.4 1837.2L1058.8 1826.9L1077.6 1826.9L1087.0 1825.8L1124.6 1825.8L1134.0 1796.0L1171.7 1796.0L1181.1 1793.4L1199.9 1791.6L1209.3 1791.6L1218.7 1755.2L1228.1 1755.2L1237.5 1753.8L1246.9 1752.6L1256.3 1717.4L1265.7 1679.9L1275.1 1679.9L1284.5 1665.9L1293.9 1664.0L1434.9 1664.0L1444.3 1649.6L1453.7 1441.9L1472.5 1441.9L1481.9 1431.9L1491.4 1402.1L1538.4 1402.1L1547.8 1379.5L1557.2 1379.5L1566.6 1361.0L1576.0 1328.7L1613.6 1328.7L1623.0 1327.9L1632.4 1327.9L1641.8 1324.9L1651.2 1324.9L1660.6 1320.2L1698.2 1320.2L1707.6 1318.2L1726.4 1318.2L1735.8 1286.4L1745.2 1266.6L1764.0 1266.6L1773.4 1263.6L1782.8 1190.2L1792.2 1190.2L1801.6 1079.9L1811.0 1079.9L1820.4 1077.5L1839.3 1077.5L1848.7 1060.9L1876.9 1060.9L1886.3 1040.8L1922.7 1040.8L1932.2 1025.1L2347.3 1025.1L2356.9 887.6L3701.0 888.0" stroke="#084a8c"/>
<path d="M259.6 2118.4L363.0 2118.4L372.4 2111.0L381.8 2108.5L391.2 2108.5L400.6 2103.2L616.9 2103.2L626.3 2077.9L673.3 2077.9L682.7 2069.4L692.1 2042.5L739.1 2042.5L748.5 2011.3L795.6 2011.3L805.0 2004.9L889.6 2004.9L899.0 2004.0L1077.6 2004.0L1087.0 1993.8L1124.6 1993.8L1134.0 1978.2L1190.5 1978.2L1199.9 1975.4L1246.9 1975.4L1256.3 1964.6L1265.7 1960.3L1359.7 1960.3L1369.1 1960.1L1397.3 1960.1L1406.7 1850.7L1416.1 1850.7L1425.5 1745.7L1444.3 1745.7L1453.7 1680.7L1463.1 1680.7L1472.5 1641.6L1576.0 1641.6L1585.4 1641.2L1613.6 1641.2L1623.0 1634.6L1632.4 1634.6L1641.8 1615.2L1651.2 1615.2L1660.6 1614.7L1792.2 1614.7L1801.6 1611.9L1970.9 1611.9L1980.3 1570.6L3701.0 1570.6" stroke="#3496c3"/>
<path d="M259.6 2118.4L269.0 2118.4L278.4 2103.1L372.4 2103.1L381.8 2088.9L560.5 2088.9L569.9 2062.4L663.9 2062.4L673.3 2059.9L729.7 2059.9L739.1 2051.8L767.3 2051.8L776.7 2050.6L805.0 2050.6L814.4 2036.7L880.2 2036.7L889.6 2004.3L1002.4 2004.3L1011.8 2001.7L1021.2 2001.7L1030.6 1998.7L1068.2 1998.7L1077.6 1882.2L1087.0 1882.2L1096.4 1851.0L1105.8 1848.3L1115.2 1848.3L1124.6 1843.2L1181.1 1843.2L1190.5 1809.1L1199.9 1785.5L1228.1 1785.5L1237.5 1768.2L1322.1 1768.2L1331.5 1762.1L1453.7 1762.1L1463.1 1748.3L1472.5 1741.6L1491.4 1741.6L1500.8 1656.4L1510.2 1648.9L1519.6 1634.7L1529.0 1634.7L1538.4 1607.6L1547.8 1607.6L1557.2 1598.1L1585.4 1598.1L1594.8 1585.1L1632.4 1585.1L1641.8 1581.4L1745.2 1581.4L1754.6 1579.0L1773.4 1579.0L1782.8 1529.9L3701.0 1529.9" stroke="#2b8cbe"/>
<path d="M259.6 2118.4L372.4 2118.4L381.8 2070.6L428.8 2070.6L438.2 2067.3L757.9 2067.3L767.3 2050.3L776.7 2044.5L786.1 2044.5L795.6 2010.2L880.2 2010.2L889.6 2005.9L899.0 2005.9L908.4 1999.4L1040.0 1999.4L1049.4 1952.9L1087.0 1952.9L1096.4 1945.1L1105.8 1920.9L1152.9 1920.9L1162.3 1880.9L1171.7 1862.6L1340.9 1862.6L1350.3 1851.0L1444.3 1851.0L1453.7 1848.4L1538.4 1848.4L1547.8 1826.0L1604.2 1826.0L1613.6 1816.5L1623.0 1816.5L1632.4 1811.9L1641.8 1811.3L1660.6 1811.3L1670.0 1794.8L1679.4 1794.8L1688.8 1794.7L1698.2 1794.7L1707.6 1742.3L1717.0 1714.5L1801.6 1714.5L1811.0 1713.0L1858.1 1713.0L1867.5 1711.7L1989.7 1711.7L1999.1 1707.0L2008.5 1707.0L2017.9 1612.9L2055.5 1612.9L2064.9 1605.8L2102.5 1605.8L2111.9 1602.5L2262.4 1602.5L2271.8 1590.9L3701.0 1590.9" stroke="#389bc6"/>
<path d="M259.6 2118.4L325.4 2118.4L334.8 2039.5L663.9 2039.5L673.3 2009.5L805.0 2009.5L814.4 2006.8L823.8 1930.8L880.2 1930.8L889.6 1881.6L927.2 1881.6L936.6 1879.3L946.0 1879.3L955.4 1872.3L993.0 1872.3L1002.4 1860.6L1011.8 1784.5L1021.2 1729.9L1124.6 1729.9L1134.0 1726.6L1143.5 1726.2L1199.9 1726.2L1209.3 1725.5L1218.7 1708.6L1256.3 1708.6L1265.7 1703.1L1293.9 1703.1L1303.3 1672.2L1359.7 1672.2L1369.1 1670.7L1378.5 1670.7L1387.9 1643.5L1434.9 1643.5L1444.3 1596.9L1453.7 1574.7L1463.1 1574.7L1472.5 1573.2L1481.9 1564.7L1491.4 1563.2L1585.4 1563.2L1594.8 1511.4L1604.2 1511.4L1613.6 1486.5L1623.0 1481.1L1688.8 1481.1L1698.2 1427.8L1801.6 1427.8L1811.0 1423.4L3701.0 1423.4" stroke="#2484ba"/>
<path d="M259.6 2118.4L344.2 2118.4L353.6 2116.4L569.9 2116.4L579.3 2110.1L626.3 2110.1L635.7 2082.7L710.9 2082.7L720.3 2075.2L776.7 2075.2L786.1 2000.5L795.6 2000.5L805.0 1998.3L814.4 1998.3L823.8 1954.7L833.2 1954.7L842.6 1945.1L908.4 1945.1L917.8 1930.2L936.6 1930.2L946.0 1916.3L955.4 1916.3L964.8 1849.6L974.2 1818.6L993.0 1818.6L1002.4 1818.1L1058.8 1818.1L1068.2 1810.3L1096.4 1810.3L1105.8 1805.3L1115.2 1799.1L1152.9 1799.1L1162.3 1708.3L1171.7 1541.6L1209.3 1541.6L1218.7 1530.5L1228.1 1530.5L1237.5 1516.6L1246.9 1468.6L1519.6 1468.6L1529.0 1467.3L1538.4 1454.4L1641.8 1454.4L1651.2 1452.4L1670.0 1452.4L1679.4 1441.5L1688.8 1437.3L1792.2 1437.3L1801.6 1406.2L1839.3 1406.2L1848.7 1316.8L2121.3 1316.8L2130.7 1316.5L2177.7 1316.5L2187.2 1314.3L3701.0 1314.3" stroke="#1979b5"/>
<path d="M259.6 2118.4L748.5 2118.4L757.9 2097.7L767.3 2093.6L776.7 2093.6L786.1 2012.2L880.2 2012.2L889.6 2004.2L899.0 1993.9L936.6 1993.9L946.0 1912.5L1134.0 1912.5L1143.5 1868.0L1181.1 1868.0L1190.5 1864.7L1199.9 1864.7L1209.3 1856.2L1331.5 1856.2L1340.9 1853.4L1350.3 1853.4L1359.7 1847.4L1378.5 1847.4L1387.9 1821.7L1416.1 1821.7L1425.5 1818.3L1434.9 1817.4L1463.1 1817.4L1472.5 1811.8L1632.4 1811.8L1641.8 1730.4L3701.0 1730.4" stroke="#54b6d1"/>
<path d="M259.6 2118.4L823.8 2118.4L833.2 2114.2L1312.7 2114.2L1322.1 2108.2L1350.3 2108.2L1359.7 2090.4L1369.1 2084.2L1378.5 2084.2L1397.3 2075.1L1444.3 2075.1L1453.7 2059.4L1463.1 2057.7L1472.5 2053.2L1538.4 2053.2L1547.8 2046.6L1566.6 2046.6L1576.0 1976.8L1585.4 1935.2L1632.4 1935.2L1641.8 1868.4L1670.0 1868.4L1679.4 1865.1L1688.8 1847.9L1735.8 1847.9L1745.2 1843.8L1754.6 1843.8L1764.0 1803.9L1773.4 1777.4L1782.8 1764.0L1905.1 1764.0L1914.5 1676.3L1970.9 1676.3L1980.3 1675.9L1989.7 1662.5L2055.5 1662.5L2064.9 1642.8L2074.3 1624.7L2243.6 1624.7L2253.0 1622.1L2309.4 1622.1L2318.8 1607.4L3701.0 1607.4" stroke="#3b9dc7"/>
<path d="M259.6 2118.4L767.3 2118.4L776.7 2064.6L786.1 2044.0L946.0 2044.0L955.4 2042.6L1068.2 2042.6L1077.6 2034.8L1406.7 2034.8L1416.1 2034.3L1604.2 2034.3L1613.6 2027.8L1735.8 2027.8L1745.2 2003.3L1754.6 1997.2L1858.1 1997.2L1867.5 1995.6L2008.5 1995.6L2017.9 1958.0L2055.5 1958.0L2064.9 1912.3L2168.3 1912.3L2177.7 1905.0L3701.0 1905.0" stroke="#6bc3c9"/>
<path d="M259.6 2118.4L654.5 2118.4L663.9 2117.6L673.3 2077.5L720.3 2077.5L729.7 2054.6L739.1 2054.6L748.5 2053.2L964.8 2053.2L974.2 2051.2L1011.8 2051.2L1021.2 2050.6L1030.6 2006.4L1040.0 1950.6L1049.4 1920.7L1077.6 1920.7L1087.0 1919.3L1134.0 1919.3L1143.5 1913.4L1199.9 1913.4L1209.3 1905.2L1218.7 1899.4L1387.9 1899.4L1397.3 1881.4L1566.6 1881.4L1576.0 1876.1L1623.0 1876.1L1632.4 1810.0L1660.6 1810.0L1670.0 1763.6L1942.7 1763.6L1952.1 1748.9L3701.0 1748.9" stroke="#56b7d0"/>
<path d="M259.6 2118.4L428.8 2118.4L438.2 2099.0L513.5 2099.0L522.9 2085.8L551.1 2085.8L560.5 2057.2L569.9 2050.7L598.1 2050.7L607.5 2049.7L626.3 2049.7L635.7 2044.3L654.5 2044.3L663.9 2036.5L673.3 2028.9L748.5 2028.9L757.9 1930.7L852.0 1930.7L861.4 1926.4L870.8 1924.7L880.2 1924.7L889.6 1885.5L899.0 1866.0L908.4 1805.8L955.4 1805.8L964.8 1728.0L974.2 1691.1L1030.6 1691.1L1040.0 1675.8L1171.7 1675.8L1181.1 1675.0L1190.5 1607.1L1199.9 1601.3L1256.3 1601.3L1265.7 1577.6L1275.1 1577.6L1284.5 1557.2L1322.1 1557.2L1331.5 1553.5L1350.3 1553.5L1359.7 1532.7L1369.1 1521.7L1425.5 1521.7L1434.9 1521.3L1453.7 1521.3L1463.1 1521.1L1472.5 1518.9L1566.6 1518.9L1576.0 1512.2L1585.4 1489.6L1726.4 1489.6L1735.8 1433.5L1745.2 1421.0L1792.2 1421.0L1801.6 1379.8L1811.0 1371.8L1895.7 1371.8L1905.1 1368.8L1914.5 1368.8L1923.9 1357.9L1933.3 1350.5L1970.9 1350.5L1980.3 1336.4L1999.1 1336.4L2008.5 1325.4L2055.5 1325.4L2064.9 1316.8L2083.7 1316.8L2093.1 1198.8L2177.7 1198.8L2187.2 1197.2L2234.2 1197.2L2243.6 1161.1L3701.0 1161.1" stroke="#085da0"/>
<path d="M259.6 2118.4L532.3 2118.4L541.7 2117.9L748.5 2117.9L757.9 2112.4L767.3 2054.4L852.0 2054.4L861.4 2032.6L870.8 2027.5L880.2 2027.5L889.6 2027.1L899.0 2027.1L908.4 2019.9L936.6 2019.9L946.0 2016.5L955.4 2003.4L964.8 1992.4L974.2 1989.7L1040.0 1989.7L1049.4 1955.9L1058.8 1955.9L1068.2 1939.8L1115.2 1939.8L1124.6 1939.6L1143.5 1939.6L1152.9 1934.7L1171.7 1934.7L1181.1 1933.0L1190.5 1933.0L1199.9 1913.2L1209.3 1844.6L1218.7 1844.1L1237.5 1844.1L1246.9 1842.6L1256.3 1801.1L1284.5 1801.1L1293.9 1786.2L1303.3 1782.9L1312.7 1782.9L1322.1 1733.5L1331.5 1733.5L1340.9 1732.9L1378.5 1732.9L1387.9 1730.7L1397.3 1650.6L1406.7 1628.4L1416.1 1628.4L1425.5 1621.9L1453.7 1621.9L1463.1 1572.3L1529.0 1572.3L1538.4 1496.3L1585.4 1496.3L1594.8 1442.7L1707.6 1442.7L1717.0 1423.3L1735.8 1423.3L1745.2 1418.0L1754.6 1358.1L1764.0 1297.3L1773.4 1297.3L1782.8 1267.5L1848.7 1267.5L1858.1 1257.7L1952.1 1257.7L1961.5 1245.9L1980.3 1245.9L1989.7 1218.4L1999.1 1200.4L2017.9 1200.4L2027.3 1173.5L2055.5 1173.5L2064.9 1162.1L2074.3 1137.4L2083.7 1109.4L2093.1 1109.4L2102.5 1108.1L2135.0 1108.1L2144.5 1099.0L3701.0 1099.6" stroke="#08589b"/>
<path d="M259.6 2118.4L616.9 2118.4L626.3 2111.6L748.5 2111.6L757.9 2101.6L870.8 2101.6L880.2 2027.9L889.6 2027.9L899.0 1977.8L936.6 1977.8L946.0 1975.6L955.4 1974.4L964.8 1974.4L974.2 1942.4L983.6 1942.4L993.0 1921.2L1002.4 1898.3L1011.8 1898.3L1021.2 1836.4L1030.6 1822.2L1115.2 1822.2L1124.6 1818.1L1134.0 1818.1L1143.5 1653.0L1152.9 1652.2L1162.3 1644.4L1181.1 1644.4L1190.5 1574.8L1199.9 1554.0L1209.3 1548.5L1228.1 1548.5L1237.5 1497.1L1246.9 1493.6L1275.1 1493.6L1284.5 1436.9L1322.1 1436.9L1331.5 1404.0L1340.9 1404.0L1350.3 1399.6L1416.1 1399.6L1425.5 1398.7L1434.9 1393.6L1510.2 1393.6L1519.6 1362.4L1529.0 1353.9L1557.2 1353.9L1566.6 1344.9L1576.0 1333.1L1585.4 1284.2L1604.2 1284.2L1613.6 1262.1L1641.8 1262.1L1651.2 1260.7L1660.6 1260.7L1670.0 1249.6L1718.7 1249.6L1727.4 1243.8L1736.1 1184.4L1744.8 1184.4L1752.1 1125.0L1754.1 1101.8L1757.0 1032.3L1759.3 942.4L1755.7 1108.1L1759.5 996.4L1763.8 797.5L1792.4 797.5L1802.0 712.5L1811.5 663.4L1933.6 663.4L1943.2 660.0L1971.3 660.0L1980.9 626.6L2064.9 626.6L2074.4 508.8L2083.9 506.4L3701.0 506.6" stroke="#084384"/>
<path d="M259.6 2118.4L410.0 2118.4L419.4 2113.0L598.1 2113.0L607.5 2108.5L748.5 2108.5L757.9 2107.6L767.3 2086.3L786.1 2086.3L795.6 2083.9L805.0 2074.8L823.8 2074.8L833.2 2051.8L852.0 2051.8L861.4 2048.4L870.8 2041.9L899.0 2041.9L908.4 2004.7L955.4 2004.7L964.8 2003.3L1040.0 2003.3L1049.4 1952.5L1068.2 1952.5L1077.6 1945.4L1087.0 1941.3L1096.4 1891.2L1181.1 1891.2L1199.9 1879.7L1209.3 1877.2L1237.5 1877.2L1246.9 1875.3L1275.1 1875.3L1284.5 1739.7L1322.1 1739.7L1331.5 1578.8L1340.9 1574.0L1378.5 1574.0L1387.9 1571.0L1425.5 1571.0L1434.9 1565.3L1463.1 1565.3L1472.5 1564.8L1481.9 1560.8L1491.4 1556.6L1594.8 1556.6L1604.2 1556.2L1623.0 1556.2L1632.4 1556.0L1641.8 1556.0L1651.2 1536.7L1660.6 1536.7L1670.0 1536.5L1679.4 1536.5L1688.8 1536.1L1764.0 1536.1L1773.4 1514.2L1782.8 1440.5L1792.2 1389.1L1801.6 1363.6L1961.5 1363.6L1970.9 1323.1L1980.3 1323.1L1989.7 1302.8L2064.9 1302.8L2074.3 1290.1L2083.7 1286.9L3701.0 1286.9" stroke="#1272b1"/>
<path d="M259.6 2118.4L522.9 2118.4L532.3 2002.7L541.7 1982.1L616.9 1982.1L626.3 1979.5L842.6 1979.5L852.0 1973.2L1002.4 1973.2L1011.8 1967.4L1068.2 1967.4L1077.6 1929.6L1124.6 1929.6L1134.0 1928.0L1190.5 1928.0L1199.9 1844.0L1218.7 1844.0L1228.1 1835.8L1284.5 1835.8L1293.9 1810.5L1406.7 1810.5L1416.1 1726.5L1510.2 1726.5L1519.6 1703.1L1632.4 1703.1L1641.8 1702.2L1726.4 1702.2L1735.8 1694.2L1867.5 1694.2L1876.9 1694.1L2017.9 1694.1L2027.3 1692.7L2121.3 1692.7L2130.7 1684.1L2140.1 1680.2L3701.0 1680.2" stroke="#47abcf"/>
<path d="M259.6 2118.4L946.0 2118.4L955.4 2117.7L1378.5 2117.7L1387.9 2105.2L1566.6 2105.2L1576.0 2093.0L1585.4 2093.0L1594.8 2022.4L1613.6 2022.4L1623.0 2007.7L1632.4 2005.5L1679.4 2005.5L1688.8 2003.3L1820.4 2003.3L1829.8 1936.3L1876.9 1936.3L1886.3 1918.2L1905.1 1918.2L1914.5 1915.2L1923.9 1915.2L1933.3 1913.6L1952.1 1913.6L1961.5 1906.8L1980.3 1906.8L1989.7 1892.0L2027.3 1892.0L2036.7 1884.2L2083.7 1884.2L2093.1 1847.9L2121.3 1847.9L2130.7 1844.4L2271.8 1844.4L2281.2 1797.6L2309.4 1797.6L2318.8 1761.7L3701.0 1761.7" stroke="#5abacf"/>
<path d="M259.6 2118.4L344.2 2118.4L353.6 2084.0L532.3 2084.0L541.7 1988.4L588.7 1988.4L598.1 1947.2L635.7 1947.2L645.1 1941.6L748.5 1941.6L757.9 1929.6L776.7 1929.6L786.1 1898.8L814.4 1898.8L823.8 1885.9L833.2 1883.6L861.4 1883.6L870.8 1871.7L908.4 1871.7L917.8 1816.9L927.2 1816.9L936.6 1794.4L946.0 1782.6L955.4 1778.5L964.8 1778.2L974.2 1778.2L983.6 1774.4L993.0 1773.9L1002.4 1771.4L1011.8 1771.4L1021.2 1636.6L1049.4 1636.6L1058.8 1631.6L1068.2 1629.5L1077.6 1629.5L1087.0 1616.8L1105.8 1616.8L1115.2 1604.6L1152.9 1604.6L1162.3 1592.5L1171.7 1565.4L1218.7 1565.4L1228.1 1547.8L1246.9 1533.9L1256.3 1432.7L1284.5 1432.7L1293.9 1428.2L1312.7 1428.2L1322.1 1419.9L1331.5 1416.2L1406.7 1416.2L1416.1 1388.9L1434.9 1388.9L1444.3 1327.9L1453.7 1297.8L1463.1 1273.4L1519.6 1273.4L1529.0 1223.7L1538.4 1212.3L1547.8 1169.5L1557.2 1143.3L1566.6 1141.2L1632.4 1141.2L1641.8 1134.3L1651.2 1134.3L1660.6 1133.1L1679.4 1133.1L1688.8 1111.6L1698.2 1089.8L1707.6 1089.8L1717.0 1033.2L1754.6 1033.2L1764.0 1022.3L1839.3 1022.3L1848.7 1020.3L1886.9 1020.3L1896.4 986.9L1905.0 959.2L2018.1 959.2L2027.6 945.4L2093.5 945.4L2103.0 914.4L3701.0 914.7" stroke="#084b8d"/>
<path d="M259.6 2118.4L363.0 2118.4L372.4 2112.1L579.3 2112.1L588.7 2028.1L626.3 2028.1L635.7 2011.6L645.1 2008.6L663.9 2008.6L673.3 2005.3L682.7 1987.7L786.1 1987.7L795.6 1969.1L805.0 1959.9L814.4 1959.9L823.8 1954.3L833.2 1954.3L842.6 1942.8L899.0 1942.8L908.4 1918.3L974.2 1918.3L983.6 1877.9L993.0 1870.1L1002.4 1839.9L1011.8 1839.3L1021.2 1839.1L1058.8 1839.1L1068.2 1835.1L1115.2 1835.1L1124.6 1780.1L1134.0 1780.1L1143.5 1759.7L1152.9 1750.0L1162.3 1711.3L1171.7 1711.3L1181.1 1629.8L1190.5 1622.8L1199.9 1622.8L1209.3 1610.0L1218.7 1555.2L1237.5 1555.2L1246.9 1547.1L1275.1 1547.1L1284.5 1546.0L1293.9 1546.0L1303.3 1514.7L1312.7 1484.8L1340.9 1484.8L1350.3 1404.6L1359.7 1404.6L1369.1 1383.7L1378.5 1381.7L1387.9 1378.3L1397.3 1375.7L1472.5 1375.7L1481.9 1329.5L1491.4 1325.0L1529.0 1325.0L1538.4 1316.9L1547.8 1316.9L1557.2 1292.4L1632.4 1292.4L1641.8 1253.4L1660.6 1253.4L1670.0 1252.8L1679.4 1239.1L1726.4 1239.1L1735.8 1231.1L1745.2 1144.4L1754.6 1143.5L1764.0 1143.5L1773.4 1134.0L1782.8 1134.0L1792.2 1130.4L1811.0 1130.4L1820.4 1128.3L1867.5 1128.3L1876.9 1109.2L1905.1 1109.2L1914.5 1108.1L2014.8 1108.1L2025.3 1069.0L3701.0 1069.5" stroke="#085395"/>
<path d="M259.6 2118.4L607.5 2118.4L607.5 1780.1L618.1 1780.1L626.6 1747.5L692.4 1747.5L700.8 1697.4L802.7 1697.4L813.3 1665.5L845.2 1663.4L855.8 1631.6L1021.2 1631.6L1030.6 1622.9L1040.0 1618.4L1049.4 1618.2L1058.8 1576.5L1068.2 1568.5L1246.9 1568.5L1256.3 1565.5L1322.1 1565.5L1331.5 1555.7L1340.9 1521.1L1444.3 1521.1L1453.7 1513.5L1566.6 1513.5L1576.0 1511.9L1585.4 1511.9L1594.8 1483.8L1604.2 1468.4L1698.2 1468.4L1707.6 1466.3L1801.6 1466.3L1811.0 1455.2L1820.4 1428.7L1829.8 1413.2L1867.5 1413.2L1876.9 1369.5L1886.3 1355.6L1914.5 1355.6L1923.9 1350.9L1961.5 1350.9L1970.9 1349.6L2074.3 1349.6L2083.7 1286.3L2093.1 1201.9L2102.5 1182.0L2130.7 1182.0L2140.1 1179.2L2309.4 1179.2L2318.8 1176.5L3701.0 1176.5" stroke="#0862a5"/>
<path d="M259.6 2118.4L345.3 2118.4L354.2 1983.4L359.2 1939.6L363.2 1915.8L373.1 1902.3L382.0 1899.9L505.6 1899.8L516.2 1887.5L673.3 1887.5L682.7 1870.2L757.9 1870.2L767.3 1833.7L852.0 1833.7L861.4 1815.6L880.2 1815.6L889.6 1786.1L955.4 1786.1L964.8 1717.6L1040.0 1717.6L1049.4 1606.8L1077.6 1606.8L1087.0 1602.5L1096.4 1592.3L1124.6 1592.3L1134.0 1590.5L1143.5 1586.5L1162.3 1586.5L1171.7 1582.2L1340.9 1582.2L1350.3 1582.0L1369.1 1582.0L1378.5 1578.0L1453.7 1578.0L1463.1 1547.5L1472.5 1547.5L1481.9 1517.2L1623.0 1517.2L1632.4 1472.3L1707.6 1472.3L1717.0 1458.5L1839.3 1458.5L1848.7 1456.6L1876.9 1456.6L1886.3 1363.2L1905.1 1363.2L1914.5 1359.3L1989.7 1359.3L1999.1 1354.7L2111.9 1354.7L2121.3 1353.5L3701.0 1353.5" stroke="#1d7eb7"/>
<path d="M259.6 2118.4L353.6 2118.4L363.0 2112.3L513.5 2112.3L522.9 2042.5L541.7 2042.5L551.1 2011.4L569.9 2011.4L579.3 2010.2L588.7 2009.7L663.9 2009.7L673.3 2006.0L936.6 2006.0L946.0 2005.7L1030.6 2005.7L1040.0 2003.5L1049.4 2003.5L1058.8 1999.8L1068.2 1980.8L1077.6 1976.3L1087.0 1976.3L1096.4 1968.9L1143.5 1968.9L1152.9 1896.3L1331.5 1896.3L1340.9 1891.2L1350.3 1794.2L1359.7 1794.2L1369.1 1732.0L1519.6 1732.0L1529.0 1687.7L1594.8 1687.7L1604.2 1672.7L1613.6 1670.6L1632.4 1670.6L1641.8 1667.3L1933.3 1667.3L1942.7 1628.6L3701.0 1628.6" stroke="#3ea1c9"/>
<path d="M259.6 2118.4L861.4 2118.4L870.8 2104.6L983.6 2104.6L993.0 2078.6L1030.6 2078.6L1040.0 1998.7L1115.2 1998.7L1124.6 1994.9L1228.1 1994.9L1237.5 1991.3L1340.9 1991.3L1350.3 1989.3L1397.3 1989.3L1406.7 1892.9L1416.1 1830.5L1425.5 1819.0L1434.9 1817.1L1510.2 1817.1L1519.6 1816.9L1538.4 1816.9L1547.8 1814.4L1557.2 1813.8L1585.4 1813.8L1594.8 1812.5L1679.4 1812.5L1688.8 1809.6L1698.2 1767.0L1707.6 1763.6L1717.0 1700.1L1726.4 1662.1L1782.8 1662.1L1792.2 1648.3L1801.6 1648.3L1811.0 1646.1L1829.8 1646.1L1839.3 1644.9L1942.7 1644.9L1952.1 1644.4L1961.5 1625.9L2046.1 1625.9L2055.5 1623.6L2064.9 1623.6L2074.3 1601.2L2083.7 1572.1L2093.1 1560.4L2102.5 1536.9L2121.3 1536.9L2130.7 1493.8L2149.5 1493.8L2158.9 1448.7L2196.6 1448.7L2206.0 1429.6L2215.4 1429.6L2224.8 1414.0L3701.0 1414.0" stroke="#2283ba"/>
<path d="M259.6 2118.4L739.1 2118.4L748.5 2115.3L1350.3 2115.3L1359.7 2106.2L1369.1 2100.7L1867.5 2100.7L1876.9 2081.8L3701.0 2081.8" stroke="#7accc4"/>
<path d="M259.6 2118.4L327.4 2118.4L330.3 2088.7L334.3 1965.9L645.1 1965.6L654.5 1956.2L720.3 1956.2L729.7 1932.3L814.4 1932.3L823.8 1926.7L833.2 1925.8L889.6 1925.8L899.0 1924.3L946.0 1924.3L955.4 1875.3L983.6 1875.3L993.0 1871.6L1105.8 1871.6L1115.2 1862.2L1124.6 1861.2L1143.5 1861.2L1152.9 1795.3L1162.3 1772.5L1171.7 1771.5L1190.5 1771.5L1199.9 1755.0L1256.3 1755.0L1265.7 1748.9L1378.5 1748.9L1387.9 1743.4L1434.9 1743.4L1444.3 1647.5L1472.5 1647.5L1481.9 1647.3L1641.8 1647.3L1651.2 1598.0L1660.6 1541.4L1688.8 1541.4L1698.2 1509.1L1717.0 1509.1L1726.4 1505.8L1735.8 1505.7L1754.6 1505.7L1764.0 1502.1L1773.4 1501.1L1820.4 1501.1L1829.8 1498.9L1839.3 1498.9L1848.7 1495.5L1867.5 1495.5L1876.9 1495.0L1886.3 1495.0L1895.7 1484.6L1952.1 1484.6L1961.5 1480.0L2168.3 1480.0L2177.7 1450.6L2243.6 1450.6L2253.0 1427.3L2281.2 1427.3L2290.6 1344.7L2300.0 1292.7L3701.0 1292.7" stroke="#1576b3"/>
<path d="M259.6 2118.4L710.9 2118.4L720.3 2025.3L757.9 2025.3L767.3 2023.9L917.8 2023.9L927.2 2020.4L1049.4 2020.4L1058.8 2016.9L1190.5 2016.9L1199.9 1989.3L1218.7 1989.3L1228.1 1984.2L1303.3 1984.2L1312.7 1982.2L1369.1 1982.2L1378.5 1980.3L1472.5 1980.3L1481.9 1973.9L1519.6 1973.9L1529.0 1905.1L1538.4 1893.1L1566.6 1893.1L1576.0 1883.2L1670.0 1883.2L1679.4 1874.8L1735.8 1874.8L1745.2 1862.8L1820.4 1862.8L1829.8 1815.9L1876.9 1815.9L1886.3 1775.4L1895.7 1747.3L1923.9 1747.3L1933.3 1747.0L1989.7 1747.0L1999.1 1745.2L2027.3 1745.2L2036.7 1653.7L2102.5 1653.7L2111.9 1638.6L2187.2 1638.6L2196.6 1625.4L2234.2 1625.4L2243.6 1623.2L2300.0 1623.2L2309.4 1620.0L3701.0 1620.0" stroke="#3da0c9"/>
<path d="M259.6 2118.4L579.3 2118.4L588.7 2116.3L663.9 2116.3L673.3 2107.9L1519.6 2107.9L1529.0 2030.8L1547.8 2030.8L1557.2 2013.5L3701.0 2013.5" stroke="#77cac5"/>
<path d="M259.6 2118.4L269.0 2118.4L278.4 2118.2L334.8 2118.2L344.2 2082.1L363.0 2082.1L372.4 2069.0L400.6 2069.0L410.0 2052.6L513.5 2052.5L522.9 2048.0L532.3 2039.3L569.9 2039.3L579.3 2039.1L748.5 2039.1L757.9 1912.6L767.3 1891.6L776.7 1884.4L795.6 1884.4L805.0 1865.7L814.4 1854.3L983.6 1854.3L993.0 1850.7L1068.2 1850.7L1077.6 1845.2L1134.0 1845.2L1143.5 1840.2L1152.9 1840.2L1162.3 1838.1L1171.7 1738.9L1181.1 1730.3L1228.1 1730.3L1237.5 1688.0L1246.9 1644.2L1340.9 1644.2L1350.3 1639.4L1444.3 1639.4L1453.7 1625.2L1463.1 1591.9L1472.5 1577.7L1481.9 1559.9L1491.4 1559.9L1500.8 1535.4L1566.6 1535.4L1576.0 1534.5L1698.2 1534.5L1707.6 1515.3L1717.0 1514.7L1829.8 1514.7L1839.3 1510.6L1848.7 1510.6L1858.1 1506.2L1867.5 1448.3L1876.9 1429.3L1886.3 1429.3L1895.7 1428.1L2036.7 1428.1L2046.1 1380.2L2055.5 1361.0L3701.0 1361.0" stroke="#1e7fb7"/>
<path d="M259.6 2118.4L381.8 2118.4L391.2 2118.3L400.6 2113.8L438.2 2113.8L447.7 2071.1L457.1 2064.6L522.9 2064.6L532.3 2060.4L541.7 2060.4L551.1 2035.3L635.7 2035.3L645.1 2034.0L739.1 2034.0L748.5 2033.5L786.1 2033.5L795.6 1995.9L805.0 1969.8L880.2 1969.8L889.6 1967.8L908.4 1967.8L917.8 1802.5L927.2 1802.5L936.6 1779.7L955.4 1779.7L964.8 1778.5L983.6 1778.5L993.0 1777.2L1002.4 1686.9L1077.6 1686.9L1087.0 1641.3L1096.4 1641.3L1105.8 1611.4L1115.2 1532.4L1143.5 1532.4L1152.9 1529.4L1209.3 1529.4L1218.7 1528.5L1228.1 1505.1L1237.5 1497.8L1246.9 1496.6L1256.3 1486.3L1275.1 1486.3L1284.5 1484.8L1322.1 1484.8L1331.5 1471.4L1340.9 1471.4L1350.3 1465.3L1359.7 1465.3L1369.1 1461.8L1378.5 1430.6L1406.7 1430.6L1416.1 1403.1L1491.4 1403.1L1500.8 1385.5L1510.2 1344.3L1529.0 1344.3L1538.4 1343.4L1557.2 1343.4L1566.6 1321.7L1576.0 1312.0L1585.4 1296.8L1623.0 1296.8L1632.4 1280.7L1707.6 1280.7L1717.0 1255.3L1726.4 1234.2L1735.8 1233.2L1745.2 1233.2L1754.6 1166.8L1848.7 1166.8L1858.1 1161.5L1933.3 1161.5L1942.7 1153.8L1989.7 1153.8L1999.1 1118.3L2008.5 1108.1L2037.2 1108.1L2046.7 1092.8L3701.0 1092.2" stroke="#085497"/>
<path d="M259.6 2118.4L993.0 2118.4L1002.4 2092.3L1077.6 2092.3L1087.0 2079.7L1096.4 2074.0L1190.5 2074.0L1199.9 2044.2L1500.8 2044.2L1510.2 2040.2L1566.6 2040.2L1576.0 2038.0L1594.8 2038.0L1604.2 2032.4L1660.6 2032.4L1670.0 2031.5L1688.8 2031.5L1698.2 1965.4L1745.2 1965.4L1754.6 1920.0L1764.0 1920.0L1773.4 1871.0L1792.2 1871.0L1801.6 1858.8L1811.0 1831.7L1820.4 1812.2L1848.7 1812.2L1858.1 1801.3L1895.7 1801.3L1905.1 1724.8L2027.3 1724.8L2036.7 1723.9L2121.3 1723.9L2130.7 1722.4L2149.5 1722.4L2158.9 1713.3L2168.3 1713.3L2177.7 1709.8L2271.8 1709.8L2281.2 1708.4L3701.0 1708.4" stroke="#4db2d3"/>
<path d="M259.6 2118.4L334.8 2118.4L344.2 2115.8L391.2 2115.8L400.6 2115.5L513.5 2115.5L522.9 2110.0L710.9 2110.0L720.3 2090.2L1115.2 2090.2L1124.6 2089.0L1218.7 2089.0L1228.1 2028.8L1293.9 2028.8L1303.3 2002.5L1322.1 2002.5L1331.5 1967.7L1340.9 1952.4L1416.1 1952.4L1425.5 1892.2L1500.8 1892.2L1510.2 1885.4L1604.2 1885.4L1613.6 1880.3L1623.0 1880.3L1632.4 1873.1L1641.8 1869.9L1886.3 1869.9L1895.7 1863.7L1970.9 1863.7L1980.3 1803.5L2017.9 1803.5L2027.3 1800.8L3701.0 1800.8" stroke="#5fbdcd"/>
<path d="M259.6 2118.4L504.1 2118.4L513.5 2042.8L607.5 2042.8L616.9 2016.4L823.8 2016.4L833.2 2005.7L842.6 1999.8L861.4 1999.8L870.8 1999.0L946.0 1999.0L955.4 1945.4L1002.4 1945.4L1011.8 1882.1L1124.6 1882.1L1134.0 1878.0L1152.9 1878.0L1162.3 1821.6L1171.7 1808.8L1218.7 1808.8L1228.1 1804.6L1275.1 1804.6L1284.5 1797.3L1293.9 1797.3L1303.3 1772.8L1312.7 1763.4L1322.1 1763.4L1331.5 1762.7L1378.5 1762.7L1387.9 1643.2L1491.4 1643.2L1500.8 1642.8L1566.6 1642.8L1576.0 1631.1L1594.8 1631.1L1604.2 1628.9L1632.4 1628.9L1641.8 1591.9L1651.2 1580.9L1679.4 1580.9L1688.8 1577.1L1707.6 1577.1L1717.0 1575.7L1726.4 1455.2L1745.2 1455.2L1754.6 1411.6L1764.0 1411.6L1773.4 1403.3L1792.2 1403.3L1801.6 1402.1L1811.0 1351.7L1820.4 1344.8L1848.7 1344.8L1858.1 1337.9L1867.5 1336.2L1923.9 1336.2L1933.3 1321.5L1942.7 1317.3L1970.9 1317.3L1980.3 1300.9L1999.1 1300.9L2008.5 1294.1L2017.9 1294.1L2027.3 1220.8L2064.9 1220.8L2074.3 1166.4L2140.1 1166.4L2149.5 1162.5L2224.8 1162.5L2234.2 1143.6L3701.0 1143.6" stroke="#085c9f"/>
<path d="M259.6 2118.4L729.7 2118.4L739.1 2069.5L1002.4 2069.5L1011.8 1990.1L1049.4 1990.1L1058.8 1983.2L1068.2 1983.2L1077.6 1938.8L1481.9 1938.8L1491.4 1933.3L1886.3 1933.3L1895.7 1897.9L3701.0 1897.9" stroke="#68c1ca"/>
<path d="M259.6 2118.4L381.8 2118.4L391.2 2116.2L485.3 2116.2L494.7 2114.8L504.1 2114.8L513.5 2114.5L551.1 2114.5L560.5 2109.1L607.5 2109.1L616.9 2105.4L626.3 2105.4L635.7 2090.2L645.1 2080.6L673.3 2080.6L682.7 2076.8L776.7 2076.8L786.1 2069.2L795.6 2069.2L805.0 2061.2L833.2 2061.2L842.6 2060.5L870.8 2060.5L880.2 2013.3L889.6 1993.1L908.4 1993.1L917.8 1981.9L927.2 1913.5L955.4 1913.5L964.8 1905.9L1040.0 1905.9L1049.4 1756.6L1058.8 1731.5L1068.2 1715.0L1096.4 1715.0L1105.8 1693.3L1134.0 1693.3L1143.5 1686.4L1171.7 1686.4L1181.1 1612.6L1293.9 1612.6L1303.3 1570.1L1322.1 1570.1L1331.5 1568.8L1359.7 1568.8L1369.1 1528.5L1378.5 1509.2L1416.1 1509.2L1425.5 1493.7L1434.9 1475.4L1481.9 1475.4L1491.4 1474.2L1519.6 1474.2L1529.0 1458.1L1576.0 1458.1L1585.4 1313.9L1594.8 1308.6L1632.4 1308.6L1641.8 1203.4L1679.4 1203.4L1688.8 1132.8L1698.2 1132.8L1707.6 1122.3L1745.2 1122.3L1754.6 1118.7L1782.8 1118.7L1792.2 1117.6L1829.8 1117.6L1839.3 1117.2L1867.5 1117.2L1876.9 1112.0L1952.1 1112.0L1961.5 1108.1L2022.9 1108.1L2027.6 1051.3L3540.7 1051.3L3550.4 1026.8L3701.0 1026.8" stroke="#085093"/>
<path d="M259.6 2118.4L306.6 2118.4L316.0 2115.7L325.4 2114.3L334.8 2114.3L344.2 2087.3L438.2 2087.3L447.7 2052.6L457.1 2052.6L466.5 2052.2L560.5 2052.2L569.9 2051.4L598.1 2051.4L607.5 2047.6L692.1 2047.6L701.5 2045.6L729.7 2045.6L739.1 2000.0L795.6 2000.0L805.0 1986.2L814.4 1986.2L823.8 1986.1L833.2 1986.1L842.6 1931.2L852.0 1930.9L861.4 1930.9L870.8 1908.8L880.2 1884.7L889.6 1868.8L899.0 1868.8L908.4 1868.7L917.8 1720.0L964.8 1720.0L974.2 1710.9L983.6 1710.9L993.0 1708.2L1002.4 1708.2L1011.8 1705.6L1021.2 1666.8L1134.0 1666.8L1143.5 1657.1L1152.9 1651.6L1181.1 1651.6L1190.5 1647.3L1256.3 1647.3L1265.7 1589.3L1275.1 1553.6L1340.9 1553.6L1350.3 1509.3L1369.1 1509.3L1378.5 1504.5L1434.9 1504.5L1444.3 1500.3L1481.9 1500.3L1491.4 1421.8L1500.8 1326.5L1510.2 1317.3L1519.6 1317.3L1529.0 1301.8L1594.8 1301.8L1604.2 1301.1L1613.6 1272.4L1717.0 1272.4L1726.4 1268.9L1792.2 1268.9L1801.6 1267.5L1952.1 1267.5L1961.5 1206.3L3701.0 1206.3" stroke="#0868ac"/>
</g>
<path d="M259.6 2118.4L553.0 2118.4L562.4 2029.1L570.9 1991.7L589.4 1991.7L599.1 1942.8L778.2 1940.5L792.7 1928.9L871.8 1928.9L880.2 1857.9L891.2 1857.9L899.0 1846.3L908.3 1795.6L1081.0 1795.6L1090.6 1758.0L1100.4 1720.3L1134.6 1720.3L1135.6 1720.2L1144.0 1644.8L1155.0 1644.8L1162.3 1598.5L1171.5 1598.5L1181.1 1491.2L1246.9 1491.2L1256.4 1471.0L1302.8 1471.0L1312.7 1340.6L1341.1 1340.6L1350.3 1334.2L1368.0 1334.2L1378.4 1323.2L1406.8 1323.2L1416.1 1313.0L1434.9 1313.0L1444.5 1286.1L1453.6 1285.0L1463.2 1250.2L1472.4 1249.6L1482.0 1115.7L1540.5 1114.9L1555.0 1069.4L1621.7 1068.5L1640.5 1052.6L1646.3 1052.6L1660.8 1046.2L1743.4 1046.2L1755.0 1039.5L1828.9 1039.5L1840.5 1033.7L1854.9 1033.7L1866.5 1029.4L1879.6 1028.8L1884.5 1028.8L1905.2 767.1L1950.7 767.1L1960.8 757.0L1970.1 716.7L1989.2 716.7L1998.5 598.5L2186.2 598.5L2196.4 587.8L2205.7 449.7L3720.0 449.7" stroke="#08306b" stroke-width="20.83"/>
<path d="M259.6 2118.4L1350.3 2118.4L1359.7 2061.4L2008.5 2061.4L2017.9 2054.9L3720.0 2054.9" stroke="#6baed6" stroke-width="20.83"/>
<path d="M259.6 2118.4L278.4 2118.1L297.2 2117.7L306.6 2117.4L325.4 2116.7L334.8 2116.3L344.2 2115.8L353.6 2115.3L363.0 2114.7L372.4 2114.0L381.8 2113.1L391.2 2112.1L410.0 2110.0L419.4 2108.8L428.8 2107.6L438.2 2106.3L504.1 2096.4L560.5 2087.5L579.3 2084.7L588.7 2083.1L598.1 2081.4L607.5 2079.5L616.9 2077.4L626.3 2075.1L645.1 2070.5L682.7 2061.6L692.1 2059.3L701.5 2057.0L710.9 2054.6L720.3 2052.0L729.7 2049.4L739.1 2046.5L748.5 2043.6L786.1 2031.5L833.2 2016.6L852.0 2010.6L889.6 1998.2L908.4 1991.9L917.8 1988.7L927.2 1985.4L936.6 1981.9L946.0 1978.4L955.4 1974.7L964.8 1970.9L1002.4 1955.4L1011.8 1951.6L1040.0 1940.3L1049.4 1936.5L1058.8 1932.4L1068.2 1928.1L1077.6 1923.6L1087.0 1918.5L1096.4 1912.6L1105.8 1906.4L1115.2 1900.4L1124.6 1894.9L1134.0 1890.0L1143.5 1885.4L1152.9 1881.0L1162.3 1876.7L1181.1 1868.3L1190.5 1864.0L1199.9 1859.6L1209.3 1855.0L1228.1 1845.6L1237.5 1841.1L1246.9 1837.0L1256.3 1833.1L1265.7 1829.5L1275.1 1826.0L1284.5 1822.6L1303.3 1815.9L1312.7 1812.7L1322.1 1809.5L1331.5 1806.5L1378.5 1791.5L1387.9 1788.5L1397.3 1785.5L1434.9 1772.7L1463.1 1763.0L1481.9 1756.4L1500.8 1749.6L1519.6 1742.7L1529.0 1739.1L1547.8 1731.8L1566.6 1724.4L1585.4 1716.7L1604.2 1708.9L1623.0 1700.9L1641.8 1692.7L1660.6 1684.4L1679.4 1675.9L1698.2 1667.2L1707.6 1662.7L1717.0 1658.0L1726.4 1653.1L1754.6 1638.1L1764.0 1633.1L1773.4 1628.3L1782.8 1623.6L1792.2 1619.3L1801.6 1615.2L1811.0 1611.3L1820.4 1607.5L1829.8 1603.9L1839.3 1600.4L1848.7 1597.1L1858.1 1593.9L1867.5 1590.8L1876.9 1587.8L1886.3 1584.9L1895.7 1582.1L1905.1 1579.4L1923.9 1574.3L1961.5 1564.1L1970.9 1561.5L1980.3 1558.8L1989.7 1556.1L2008.5 1550.4L2036.7 1541.7L2046.1 1538.9L2055.5 1536.1L2064.9 1533.5L2074.3 1530.9L2083.7 1528.6L2102.5 1524.1L2111.9 1521.9L2121.3 1519.8L2130.7 1517.8L2140.1 1515.9L2149.5 1514.1L2158.9 1512.5L2168.3 1510.9L2177.7 1509.5L2187.2 1508.3L2196.6 1507.1L2206.0 1506.0L2215.4 1505.1L2224.8 1504.2L2234.2 1503.4L2243.6 1502.9L2253.0 1502.6L2262.4 1502.5L3720.0 1502.5" stroke="#2171b5" stroke-width="20.83"/>
<path d="M259.6 2118.4L408.9 2118.4L418.8 2114.2L438.3 2114.2L447.6 2028.1L457.2 2027.1L466.5 1927.1L485.2 1927.1L494.4 1921.4L625.6 1921.4L635.5 1920.6L972.8 1920.7L984.1 1904.4L1010.6 1904.4L1023.5 1897.5L1038.4 1897.5L1050.3 1880.8L1076.2 1880.8L1087.1 1872.2L1093.5 1872.2L1106.0 1838.4L1150.7 1838.4L1162.3 1801.0L1171.6 1787.1L1181.2 1779.6L1199.4 1779.2L1211.4 1766.6L1226.3 1764.3L1236.2 1731.5L1276.0 1730.5L1292.9 1722.7L1366.4 1722.5L1379.4 1698.3L1488.5 1698.0L1499.7 1688.5L1764.1 1688.5L1772.4 1681.8L3531.5 1682.0" stroke="#000" stroke-width="20.83"/>
<circle cx="3531.5" cy="1682.0" r="22.9" fill="#000"/>
</g>
<rect x="222.4" y="270.5" width="3488.1" height="1847.9" fill="none" stroke="#fff" stroke-width="3.33"/>
<path d="M3710.5 2118.4h15.6M3710.5 1787.6h15.6M3710.5 1456.8h15.6M3710.5 1126.0h15.6M3710.5 795.3h15.6M3710.5 464.5h15.6" stroke="#fff" stroke-width="3.33" fill="none"/>
<text x="192.6" y="2132.9" font-size="41.67" text-anchor="end">0"</text>
<text x="192.6" y="1964.9" font-size="41.67" text-anchor="end">10"</text>
<text x="192.6" y="1796.8" font-size="41.67" text-anchor="end">20"</text>
<text x="192.6" y="1628.8" font-size="41.67" text-anchor="end">30"</text>
<text x="192.6" y="1460.7" font-size="41.67" text-anchor="end">40"</text>
<text x="192.6" y="1292.7" font-size="41.67" text-anchor="end">50"</text>
<text x="192.6" y="1124.7" font-size="41.67" text-anchor="end">60"</text>
<text x="192.6" y="956.6" font-size="41.67" text-anchor="end">70"</text>
<text x="192.6" y="788.6" font-size="41.67" text-anchor="end">80"</text>
<text x="192.6" y="620.5" font-size="41.67" text-anchor="end">90"</text>
<text x="192.6" y="452.5" font-size="41.67" text-anchor="end">100"</text>
<text x="3739.0" y="2133.1" font-size="41.67">0</text>
<text x="3739.0" y="1802.3" font-size="41.67">500</text>
<text x="3739.0" y="1471.5" font-size="41.67">1000</text>
<text x="3739.0" y="1140.7" font-size="41.67">1500</text>
<text x="3739.0" y="810.0" font-size="41.67">2000</text>
<text x="3739.0" y="479.2" font-size="41.67">2500</text>
<text x="269.9" y="2178" font-size="41.67" text-anchor="middle">Oct 1</text>
<text x="561.4" y="2178" font-size="41.67" text-anchor="middle">Nov 1</text>
<text x="834.1" y="2178" font-size="41.67" text-anchor="middle">Dec 1</text>
<text x="1125.5" y="2178" font-size="41.67" text-anchor="middle">Jan 1</text>
<text x="1407.6" y="2178" font-size="41.67" text-anchor="middle">Feb 1</text>
<text x="1699.1" y="2178" font-size="41.67" text-anchor="middle">Mar 1</text>
<text x="1981.2" y="2178" font-size="41.67" text-anchor="middle">Apr 1</text>
<text x="2272.7" y="2178" font-size="41.67" text-anchor="middle">May 1</text>
<text x="2564.2" y="2178" font-size="41.67" text-anchor="middle">Jun 1</text>
<text x="2846.2" y="2178" font-size="41.67" text-anchor="middle">Jul 1</text>
<text x="3137.7" y="2178" font-size="41.67" text-anchor="middle">Aug 1</text>
<text x="3419.8" y="2178" font-size="41.67" text-anchor="middle">Sep 1</text>
<text x="1910" y="93.5" font-size="83.38" text-anchor="middle">2020-2021 Accumulated Snowfall For Fullerton_1_Ese, ND</text>
<text x="1966.4" y="245" font-size="50.03" text-anchor="middle">GHCN-D ID= USC00323287 | LAT= 46.1583 | LON= -98.3989 | ELEV= 1435' | Period= 1898-2021 | Season To Date Report= 95%</text>
<text x="296" y="329" font-size="29.17">Generated by Jared Rennie (@jjrennie) on: 2021-09-28 08:41 Eastern. Data up to 20210913</text>
<text transform="translate(66.9,1194.9) rotate(-90)" font-size="50" text-anchor="middle">Accumulated Snowfall (inches)</text>
<text transform="translate(3890.9,1194.9) rotate(90)" font-size="50" text-anchor="middle">Accumulated Snowfall (mm)</text>
<rect x="222.4" y="2218" width="3488.1" height="88.2" rx="8.3" ry="8.3" fill="#696969" stroke="#b0b0b0" stroke-width="4.17"/>
<path d="M231.8 2259.4h120.8" stroke="#08306b" stroke-width="20.83" fill="none"/>
<text x="382.2" y="2276.5" font-size="50">Max (1936-1937):   99.3"</text>
<path d="M1110.8 2259.4h120.8" stroke="#6baed6" stroke-width="20.83" fill="none"/>
<text x="1260.1" y="2276.5" font-size="50">Min (1957-1958):    3.8"</text>
<path d="M1958.1 2259.4h120.8" stroke="#2171b5" stroke-width="20.83" fill="none"/>
<text x="2108.5" y="2276.5" font-size="50">Avg (1991-2020):   36.9"</text>
<path d="M2825.2 2259.4h120.8" stroke="#000000" stroke-width="20.83" fill="none"/>
<text x="2975.0" y="2276.5" font-size="50">Current (2020-2021):   25.9"</text>
</svg></body></html>
